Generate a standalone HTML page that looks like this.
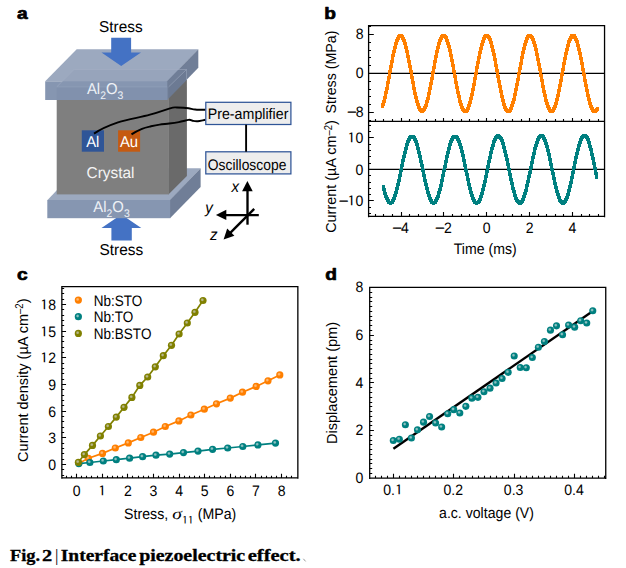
<!DOCTYPE html>
<html lang="en"><head><meta charset="utf-8"><title>Fig. 2 | Interface piezoelectric effect</title>
<style>html,body{margin:0;padding:0;background:#fff;}body{width:626px;height:568px;overflow:hidden;}svg{display:block;}text{font-family:"Liberation Sans",Arial,Helvetica,sans-serif;fill:#000;}.lab{font-weight:bold;font-size:17px;stroke:#000;stroke-width:0.7px;stroke-linejoin:round;}.cap{font-family:"Liberation Serif","DejaVu Serif",serif;font-weight:bold;stroke:#000;stroke-width:0.3px;}.w{fill:#fff;}.n{font-family:"IPAGothic","NanumGothic","Liberation Sans",sans-serif;}</style>
</head><body>
<svg width="626" height="568" viewBox="0 0 626 568">
<defs>
<radialGradient id="gO" cx="0.4" cy="0.4" r="0.26" fx="0.4" fy="0.4"><stop offset="0" stop-color="#ffb870"/><stop offset="0.35" stop-color="#ffb870"/><stop offset="1" stop-color="#ff7f00"/></radialGradient>
<radialGradient id="gT" cx="0.4" cy="0.4" r="0.26" fx="0.4" fy="0.4"><stop offset="0" stop-color="#8cc0c0"/><stop offset="0.35" stop-color="#8cc0c0"/><stop offset="1" stop-color="#008080"/></radialGradient>
<radialGradient id="gL" cx="0.4" cy="0.4" r="0.26" fx="0.4" fy="0.4"><stop offset="0" stop-color="#b8b88c"/><stop offset="0.35" stop-color="#b8b88c"/><stop offset="1" stop-color="#808000"/></radialGradient>
</defs>
<rect width="626" height="568" fill="#fff"/>
<text transform="translate(17.0 18.9) scale(1.13 1)" class="lab">a</text>
<text transform="translate(324.3 18.9) scale(1.13 1)" class="lab">b</text>
<text transform="translate(17.1 279.5) scale(1.13 1)" class="lab">c</text>
<text transform="translate(325.2 279.5) scale(1.13 1)" class="lab">d</text>
<g id="panel-a">
<polygon points="47.3,200.2 77.7,168.3 200.6,168.3 170.2,200.2" fill="#9ca9bf"/>
<polygon points="170.0,200.0 200.6,168.3 200.6,186.9 170.0,218.2" fill="#707e97"/>
<polygon points="168.4,86.9 186.9,69.5 186.9,176.0 168.4,194.4" fill="#6a6a6a"/>
<rect x="56.7" y="86.9" width="112.2" height="107.5" fill="#7f7f7f"/>
<polygon points="45.2,81.3 76.7,49.3 198.3,49.3 167.3,81.3" fill="#9ca9bf"/>
<polygon points="56.7,86.9 74.1,69.5 186.5,69.5 168.6,86.9" fill="#97a4bb"/>
<polygon points="167.0,81.3 198.3,49.3 198.3,67.7 167.0,100.0" fill="#707e97"/>
<polygon points="168.6,86.9 186.9,69.5 186.9,79.8 168.6,98.2" fill="#6c7a93"/>
<rect x="45.2" y="81.3" width="122.1" height="18.7" fill="#8696b1"/>
<rect x="56.7" y="86.9" width="110.6" height="13.1" fill="#8191ad"/>
<path d="M56.7,86.9 L74.1,69.5 H186.5 L168.6,86.9 M186.5,69.5 V80" fill="none" stroke="#a6b1c6" stroke-width="0.6" opacity="0.8"/>
<path d="M56.7,86.9 H167.3" fill="none" stroke="#94a2bb" stroke-width="0.6"/>
<polygon points="111.2,37.8 131.1,37.8 131.1,52.4 141,52.4 121.2,66 101.5,52.4 111.2,52.4" fill="#4472c4"/>
<polygon points="111.4,240.4 131.8,240.4 131.8,227.9 141.3,227.9 121.4,214.5 101.5,227.9 111.4,227.9" fill="#4472c4"/>
<rect x="47.3" y="200.0" width="122.9" height="18.2" fill="#8696b1"/>
<text transform="translate(99.0 32.4) scale(1 1) skewX(0.3)" font-size="15.7" text-anchor="start" textLength="43.6" lengthAdjust="spacingAndGlyphs" >Stress</text>
<text transform="translate(99.5 254.9) scale(1 1) skewX(0.3)" font-size="15.7" text-anchor="start" textLength="43.8" lengthAdjust="spacingAndGlyphs" >Stress</text>
<text transform="translate(86.9 94.1) scale(0.95 1) skewX(0.3)" font-size="15.7" style="fill:#eef1f6">Al<tspan dy="5" font-size="11">2</tspan><tspan dy="-5">O</tspan><tspan dy="5" font-size="11">3</tspan></text>
<text transform="translate(93.3 211.8) scale(0.95 1) skewX(0.3)" font-size="15.7" style="fill:#eef1f6">Al<tspan dy="5" font-size="11">2</tspan><tspan dy="-5">O</tspan><tspan dy="5" font-size="11">3</tspan></text>
<text transform="translate(86.5 178) scale(1 1) skewX(0.3)" font-size="15.7" text-anchor="start" textLength="48.0" lengthAdjust="spacingAndGlyphs" style="fill:#f4f4f4">Crystal</text>
<rect x="81.8" y="130.3" width="22.2" height="21.4" fill="#2f5597"/>
<rect x="118.1" y="130.3" width="22" height="21.4" fill="#c55a11"/>
<text transform="translate(92.8 146.9) scale(0.95 1) skewX(0.3)" font-size="15.7" text-anchor="middle" class="w">Al</text>
<text transform="translate(129.0 146.9) scale(0.95 1) skewX(0.3)" font-size="15.7" text-anchor="middle" class="w">Au</text>
<path d="M94,133.6 C100,129.5 108,125.8 118,122.4 S140,117.5 150,114.7 S163,110.4 169.2,108.6 S174,107.5 177,107.5 S186,107.8 188.4,108.2 S193,109.3 195.1,109.5 S201,109.8 205.6,109.8" fill="none" stroke="#000" stroke-width="1.9"/>
<path d="M131.5,134.4 C135,132 139,130 142,128.8 S148,127 151,126.3 S157,125 159.6,124.6 S166,123.9 169.2,123.5 S176,122.6 178.8,122.1 S186,120.4 188.4,119.9 S191.5,120.6 193.1,120.9 S196.5,121.3 197.9,121.2 S203,120.2 205.6,119.7" fill="none" stroke="#000" stroke-width="1.9"/>
<rect x="205.8" y="102.3" width="85.1" height="22.2" fill="#ededed" stroke="#2f5597" stroke-width="1.25"/>
<rect x="205.8" y="151.8" width="85.1" height="22.1" fill="#ededed" stroke="#2f5597" stroke-width="1.25"/>
<line x1="246.1" y1="124.7" x2="246.1" y2="151.7" stroke="#000" stroke-width="1.9"/>
<text transform="translate(207.7 118.9) scale(1 1) skewX(0.3)" font-size="15.3" text-anchor="start" textLength="80.7" lengthAdjust="spacingAndGlyphs" >Pre-amplifier</text>
<text transform="translate(207.7 169.6) scale(1 1) skewX(0.3)" font-size="15.3" text-anchor="start" textLength="78.7" lengthAdjust="spacingAndGlyphs" >Oscilloscope</text>
<g stroke="#000" stroke-width="2.35" fill="none">
<line x1="247.5" y1="224.7" x2="247.5" y2="189"/>
<line x1="258.8" y1="215.1" x2="225" y2="215.1"/>
<line x1="254.2" y1="208.9" x2="229" y2="234.2"/>
</g>
<polygon points="247.4,181.1 252.7,191.3 242.1,191.3" fill="#000"/>
<polygon points="215.9,214.9 226.3,209.8 226.3,220" fill="#000"/>
<polygon points="223.6,239.4 227.2,228.6 234.4,235.8" fill="#000"/>
<text transform="translate(231.6 192.3) scale(0.95 1) skewX(0.3)" font-size="16" text-anchor="start" font-style="italic">x</text>
<text transform="translate(205.2 212.6) scale(0.95 1) skewX(0.3)" font-size="16" text-anchor="start" font-style="italic">y</text>
<text transform="translate(210.0 240.2) scale(0.95 1) skewX(0.3)" font-size="16" text-anchor="start" font-style="italic">z</text>
</g>
<g id="panel-b">
<path d="M368.6,73.45H604.55M368.6,169.45H604.55" stroke="#000" stroke-width="1.2" fill="none"/>
<polygon points="381.10,104.58 381.35,103.86 381.60,103.09 381.85,102.28 382.10,101.44 382.35,100.55 382.60,99.63 382.85,98.66 383.10,97.67 383.35,96.64 383.60,95.57 383.85,94.48 384.10,93.35 384.35,92.20 384.60,91.02 384.85,89.81 385.10,88.58 385.35,87.33 385.60,86.06 385.85,84.77 386.10,83.46 386.35,82.14 386.60,80.81 386.85,79.46 387.10,78.10 387.35,76.73 387.60,75.36 387.85,73.99 388.10,72.61 388.35,71.23 388.60,69.85 388.85,68.47 389.10,67.10 389.35,65.73 389.60,64.37 389.85,63.03 390.10,61.69 390.35,60.37 390.60,59.06 390.85,57.77 391.10,56.50 391.35,55.25 391.60,54.03 391.85,52.82 392.10,51.64 392.35,50.49 392.60,49.37 392.85,48.27 393.10,47.21 393.35,46.18 393.60,45.19 393.85,44.23 394.10,43.31 394.35,42.42 394.60,41.57 394.85,40.77 395.10,40.01 395.35,39.28 395.60,38.61 395.85,37.97 396.10,37.38 396.35,36.84 396.60,36.34 396.85,35.89 397.10,35.49 397.35,35.14 397.60,34.84 397.85,34.58 398.10,34.38 398.35,34.22 398.60,34.11 398.85,34.06 399.10,34.05 399.35,34.05 399.60,34.05 399.85,34.05 400.10,34.05 400.35,34.05 400.60,34.05 400.85,34.05 401.10,34.05 401.35,34.05 401.60,34.05 401.85,34.05 402.10,34.05 402.35,34.10 402.60,34.19 402.85,34.34 403.10,34.54 403.35,34.78 403.60,35.08 403.85,35.42 404.10,35.81 404.35,36.25 404.60,36.74 404.85,37.27 405.10,37.85 405.35,38.48 405.60,39.14 405.85,39.86 406.10,40.61 406.35,41.41 406.60,42.25 406.85,43.13 407.10,44.04 407.35,44.99 407.60,45.98 407.85,47.00 408.10,48.06 408.35,49.15 408.60,50.26 408.85,51.41 409.10,52.58 409.35,53.78 409.60,55.01 409.85,56.25 410.10,57.52 410.35,58.80 410.60,60.11 410.85,61.43 411.10,62.76 411.35,64.10 411.60,65.46 411.85,66.82 412.10,68.19 412.35,69.57 412.60,70.95 412.85,72.33 413.10,73.71 413.35,75.09 413.60,76.46 413.85,77.83 414.10,79.19 414.35,80.54 414.60,81.88 414.85,83.20 415.10,84.51 415.35,85.81 415.60,87.08 415.85,88.34 416.10,89.57 416.35,90.78 416.60,91.97 416.85,93.12 417.10,94.25 417.35,95.36 417.60,96.43 417.85,97.46 418.10,98.47 418.35,99.44 418.60,100.37 418.85,101.26 419.10,102.12 419.35,102.93 419.60,103.71 419.85,104.44 420.10,105.13 420.35,105.77 420.60,106.37 420.85,106.93 421.10,107.44 421.35,107.90 421.60,108.31 421.85,108.68 422.10,108.90 422.35,108.57 422.60,108.19 422.85,107.76 423.10,107.29 423.35,106.77 423.60,106.20 423.85,105.58 424.10,104.93 424.35,104.22 424.60,103.48 424.85,102.69 425.10,101.87 425.35,101.00 425.60,100.09 425.85,99.15 426.10,98.17 426.35,97.16 426.60,96.11 426.85,95.03 427.10,93.92 427.35,92.78 427.60,91.61 427.85,90.42 428.10,89.20 428.35,87.96 428.60,86.70 428.85,85.42 429.10,84.12 429.35,82.81 429.60,81.48 429.85,80.13 430.10,78.78 430.35,77.42 430.60,76.05 430.85,74.67 431.10,73.30 431.35,71.92 431.60,70.54 431.85,69.16 432.10,67.78 432.35,66.41 432.60,65.05 432.85,63.70 433.10,62.36 433.35,61.03 433.60,59.71 433.85,58.42 434.10,57.14 434.35,55.88 434.60,54.64 434.85,53.42 435.10,52.23 435.35,51.06 435.60,49.92 435.85,48.82 436.10,47.74 436.35,46.69 436.60,45.68 436.85,44.70 437.10,43.76 437.35,42.86 437.60,41.99 437.85,41.17 438.10,40.38 438.35,39.64 438.60,38.94 438.85,38.28 439.10,37.67 439.35,37.11 439.60,36.59 439.85,36.11 440.10,35.69 440.35,35.31 440.60,34.98 440.85,34.70 441.10,34.47 441.35,34.29 441.60,34.16 441.85,34.08 442.10,34.05 442.35,34.05 442.60,34.05 442.85,34.05 443.10,34.05 443.35,34.05 443.60,34.05 443.85,34.05 444.10,34.05 444.35,34.05 444.60,34.05 444.85,34.05 445.10,34.05 445.35,34.07 445.60,34.14 445.85,34.26 446.10,34.43 446.35,34.65 446.60,34.92 446.85,35.24 447.10,35.61 447.35,36.02 447.60,36.49 447.85,37.00 448.10,37.55 448.35,38.16 448.60,38.80 448.85,39.50 449.10,40.23 449.35,41.01 449.60,41.82 449.85,42.68 450.10,43.58 450.35,44.51 450.60,45.48 450.85,46.49 451.10,47.53 451.35,48.60 451.60,49.70 451.85,50.83 452.10,51.99 452.35,53.18 452.60,54.39 452.85,55.63 453.10,56.88 453.35,58.16 453.60,59.45 453.85,60.76 454.10,62.09 454.35,63.43 454.60,64.78 454.85,66.14 455.10,67.51 455.35,68.88 455.60,70.26 455.85,71.64 456.10,73.02 456.35,74.40 456.60,75.77 456.85,77.14 457.10,78.51 457.35,79.86 457.60,81.21 457.85,82.54 458.10,83.86 458.35,85.16 458.60,86.45 458.85,87.71 459.10,88.96 459.35,90.18 459.60,91.38 459.85,92.55 460.10,93.69 460.35,94.81 460.60,95.89 460.85,96.95 461.10,97.97 461.35,98.96 461.60,99.91 461.85,100.82 462.10,101.69 462.35,102.53 462.60,103.33 462.85,104.08 463.10,104.79 463.35,105.46 463.60,106.08 463.85,106.66 464.10,107.19 464.35,107.67 464.60,108.11 464.85,108.50 465.10,108.84 465.35,108.74 465.60,108.39 465.85,107.98 466.10,107.53 466.35,107.03 466.60,106.49 466.85,105.90 467.10,105.26 467.35,104.58 467.60,103.86 467.85,103.09 468.10,102.28 468.35,101.44 468.60,100.55 468.85,99.63 469.10,98.66 469.35,97.67 469.60,96.64 469.85,95.57 470.10,94.48 470.35,93.35 470.60,92.20 470.85,91.02 471.10,89.81 471.35,88.58 471.60,87.33 471.85,86.06 472.10,84.77 472.35,83.46 472.60,82.14 472.85,80.81 473.10,79.46 473.35,78.10 473.60,76.73 473.85,75.36 474.10,73.99 474.35,72.61 474.60,71.23 474.85,69.85 475.10,68.47 475.35,67.10 475.60,65.73 475.85,64.37 476.10,63.03 476.35,61.69 476.60,60.37 476.85,59.06 477.10,57.77 477.35,56.50 477.60,55.25 477.85,54.03 478.10,52.82 478.35,51.64 478.60,50.49 478.85,49.37 479.10,48.27 479.35,47.21 479.60,46.18 479.85,45.19 480.10,44.23 480.35,43.31 480.60,42.42 480.85,41.57 481.10,40.77 481.35,40.01 481.60,39.28 481.85,38.61 482.10,37.97 482.35,37.38 482.60,36.84 482.85,36.34 483.10,35.89 483.35,35.49 483.60,35.14 483.85,34.84 484.10,34.58 484.35,34.38 484.60,34.22 484.85,34.11 485.10,34.06 485.35,34.05 485.60,34.05 485.85,34.05 486.10,34.05 486.35,34.05 486.60,34.05 486.85,34.05 487.10,34.05 487.35,34.05 487.60,34.05 487.85,34.05 488.10,34.05 488.35,34.05 488.60,34.10 488.85,34.19 489.10,34.34 489.35,34.54 489.60,34.78 489.85,35.08 490.10,35.42 490.35,35.81 490.60,36.25 490.85,36.74 491.10,37.27 491.35,37.85 491.60,38.48 491.85,39.14 492.10,39.86 492.35,40.61 492.60,41.41 492.85,42.25 493.10,43.13 493.35,44.04 493.60,44.99 493.85,45.98 494.10,47.00 494.35,48.06 494.60,49.15 494.85,50.26 495.10,51.41 495.35,52.58 495.60,53.78 495.85,55.01 496.10,56.25 496.35,57.52 496.60,58.80 496.85,60.11 497.10,61.43 497.35,62.76 497.60,64.10 497.85,65.46 498.10,66.82 498.35,68.19 498.60,69.57 498.85,70.95 499.10,72.33 499.35,73.71 499.60,75.09 499.85,76.46 500.10,77.83 500.35,79.19 500.60,80.54 500.85,81.88 501.10,83.20 501.35,84.51 501.60,85.81 501.85,87.08 502.10,88.34 502.35,89.57 502.60,90.78 502.85,91.97 503.10,93.12 503.35,94.25 503.60,95.36 503.85,96.43 504.10,97.46 504.35,98.47 504.60,99.44 504.85,100.37 505.10,101.26 505.35,102.12 505.60,102.93 505.85,103.71 506.10,104.44 506.35,105.13 506.60,105.77 506.85,106.37 507.10,106.93 507.35,107.44 507.60,107.90 507.85,108.31 508.10,108.68 508.35,108.90 508.60,108.57 508.85,108.19 509.10,107.76 509.35,107.29 509.60,106.77 509.85,106.20 510.10,105.58 510.35,104.93 510.60,104.22 510.85,103.48 511.10,102.69 511.35,101.87 511.60,101.00 511.85,100.09 512.10,99.15 512.35,98.17 512.60,97.16 512.85,96.11 513.10,95.03 513.35,93.92 513.60,92.78 513.85,91.61 514.10,90.42 514.35,89.20 514.60,87.96 514.85,86.70 515.10,85.42 515.35,84.12 515.60,82.81 515.85,81.48 516.10,80.13 516.35,78.78 516.60,77.42 516.85,76.05 517.10,74.67 517.35,73.30 517.60,71.92 517.85,70.54 518.10,69.16 518.35,67.78 518.60,66.41 518.85,65.05 519.10,63.70 519.35,62.36 519.60,61.03 519.85,59.71 520.10,58.42 520.35,57.14 520.60,55.88 520.85,54.64 521.10,53.42 521.35,52.23 521.60,51.06 521.85,49.92 522.10,48.82 522.35,47.74 522.60,46.69 522.85,45.68 523.10,44.70 523.35,43.76 523.60,42.86 523.85,41.99 524.10,41.17 524.35,40.38 524.60,39.64 524.85,38.94 525.10,38.28 525.35,37.67 525.60,37.11 525.85,36.59 526.10,36.11 526.35,35.69 526.60,35.31 526.85,34.98 527.10,34.70 527.35,34.47 527.60,34.29 527.85,34.16 528.10,34.08 528.35,34.05 528.60,34.05 528.85,34.05 529.10,34.05 529.35,34.05 529.60,34.05 529.85,34.05 530.10,34.05 530.35,34.05 530.60,34.05 530.85,34.05 531.10,34.05 531.35,34.05 531.60,34.07 531.85,34.14 532.10,34.26 532.35,34.43 532.60,34.65 532.85,34.92 533.10,35.24 533.35,35.61 533.60,36.02 533.85,36.49 534.10,37.00 534.35,37.55 534.60,38.16 534.85,38.80 535.10,39.50 535.35,40.23 535.60,41.01 535.85,41.82 536.10,42.68 536.35,43.58 536.60,44.51 536.85,45.48 537.10,46.49 537.35,47.53 537.60,48.60 537.85,49.70 538.10,50.83 538.35,51.99 538.60,53.18 538.85,54.39 539.10,55.63 539.35,56.88 539.60,58.16 539.85,59.45 540.10,60.76 540.35,62.09 540.60,63.43 540.85,64.78 541.10,66.14 541.35,67.51 541.60,68.88 541.85,70.26 542.10,71.64 542.35,73.02 542.60,74.40 542.85,75.77 543.10,77.14 543.35,78.51 543.60,79.86 543.85,81.21 544.10,82.54 544.35,83.86 544.60,85.16 544.85,86.45 545.10,87.71 545.35,88.96 545.60,90.18 545.85,91.38 546.10,92.55 546.35,93.69 546.60,94.81 546.85,95.89 547.10,96.95 547.35,97.97 547.60,98.96 547.85,99.91 548.10,100.82 548.35,101.69 548.60,102.53 548.85,103.33 549.10,104.08 549.35,104.79 549.60,105.46 549.85,106.08 550.10,106.66 550.35,107.19 550.60,107.67 550.85,108.11 551.10,108.50 551.35,108.84 551.60,108.74 551.85,108.39 552.10,107.98 552.35,107.53 552.60,107.03 552.85,106.49 553.10,105.90 553.35,105.26 553.60,104.58 553.85,103.86 554.10,103.09 554.35,102.28 554.60,101.44 554.85,100.55 555.10,99.63 555.35,98.66 555.60,97.67 555.85,96.64 556.10,95.57 556.35,94.48 556.60,93.35 556.85,92.20 557.10,91.02 557.35,89.81 557.60,88.58 557.85,87.33 558.10,86.06 558.35,84.77 558.60,83.46 558.85,82.14 559.10,80.81 559.35,79.46 559.60,78.10 559.85,76.73 560.10,75.36 560.35,73.99 560.60,72.61 560.85,71.23 561.10,69.85 561.35,68.47 561.60,67.10 561.85,65.73 562.10,64.37 562.35,63.03 562.60,61.69 562.85,60.37 563.10,59.06 563.35,57.77 563.60,56.50 563.85,55.25 564.10,54.03 564.35,52.82 564.60,51.64 564.85,50.49 565.10,49.37 565.35,48.27 565.60,47.21 565.85,46.18 566.10,45.19 566.35,44.23 566.60,43.31 566.85,42.42 567.10,41.57 567.35,40.77 567.60,40.01 567.85,39.28 568.10,38.61 568.35,37.97 568.60,37.38 568.85,36.84 569.10,36.34 569.35,35.89 569.60,35.49 569.85,35.14 570.10,34.84 570.35,34.58 570.60,34.38 570.85,34.22 571.10,34.11 571.35,34.06 571.60,34.05 571.85,34.05 572.10,34.05 572.35,34.05 572.60,34.05 572.85,34.05 573.10,34.05 573.35,34.05 573.60,34.05 573.85,34.05 574.10,34.05 574.35,34.05 574.60,34.05 574.85,34.10 575.10,34.19 575.35,34.34 575.60,34.54 575.85,34.78 576.10,35.08 576.35,35.42 576.60,35.81 576.85,36.25 577.10,36.74 577.35,37.27 577.60,37.85 577.85,38.48 578.10,39.14 578.35,39.86 578.60,40.61 578.85,41.41 579.10,42.25 579.35,43.13 579.60,44.04 579.85,44.99 580.10,45.98 580.35,47.00 580.60,48.06 580.85,49.15 581.10,50.26 581.35,51.41 581.60,52.58 581.85,53.78 582.10,55.01 582.35,56.25 582.60,57.52 582.85,58.80 583.10,60.11 583.35,61.43 583.60,62.76 583.85,64.10 584.10,65.46 584.35,66.82 584.60,68.19 584.85,69.57 585.10,70.95 585.35,72.33 585.60,73.71 585.85,75.09 586.10,76.46 586.35,77.83 586.60,79.19 586.85,80.54 587.10,81.88 587.35,83.20 587.60,84.51 587.85,85.81 588.10,87.08 588.35,88.34 588.60,89.57 588.85,90.78 589.10,91.97 589.35,93.12 589.60,94.25 589.85,95.36 590.10,96.43 590.35,97.46 590.60,98.47 590.85,99.44 591.10,100.37 591.35,101.26 591.60,102.12 591.85,102.93 592.10,103.71 592.35,104.44 592.60,105.13 592.85,105.77 593.10,106.37 593.35,106.93 593.60,107.44 593.85,107.90 594.10,108.31 594.35,108.68 594.60,108.90 594.85,108.57 595.10,108.19 595.35,107.76 595.60,107.49 595.85,107.49 596.10,107.49 596.35,107.49 596.60,107.49 596.85,107.49 597.10,107.49 597.35,107.49 597.60,107.49 597.85,107.49 598.10,107.49 598.35,107.49 598.60,107.29 598.60,110.49 598.35,110.76 598.10,111.19 597.85,111.57 597.60,111.90 597.35,112.19 597.10,112.42 596.85,112.60 596.60,112.73 596.35,112.82 596.10,112.85 595.85,112.85 595.60,112.85 595.35,112.85 595.10,112.85 594.85,112.85 594.60,112.85 594.35,112.85 594.10,112.85 593.85,112.85 593.60,112.85 593.35,112.85 593.10,112.85 592.85,112.83 592.60,112.76 592.35,112.65 592.10,112.48 591.85,112.26 591.60,111.99 591.35,111.68 591.10,111.31 590.85,110.90 590.60,110.44 590.35,109.93 590.10,109.37 589.85,108.77 589.60,108.13 589.35,107.44 589.10,106.71 588.85,105.93 588.60,105.12 588.35,104.26 588.10,103.37 587.85,102.44 587.60,101.47 587.35,100.46 587.10,99.43 586.85,98.36 586.60,97.25 586.35,96.12 586.10,94.97 585.85,93.78 585.60,92.57 585.35,91.34 585.10,90.08 584.85,88.81 584.60,87.51 584.35,86.20 584.10,84.88 583.85,83.54 583.60,82.19 583.35,80.83 583.10,79.46 582.85,78.09 582.60,76.71 582.35,75.33 582.10,73.95 581.85,72.57 581.60,71.19 581.35,69.82 581.10,68.46 580.85,67.10 580.60,65.76 580.35,64.43 580.10,63.11 579.85,61.80 579.60,60.52 579.35,59.25 579.10,58.01 578.85,56.78 578.60,55.58 578.35,54.41 578.10,53.26 577.85,52.15 577.60,51.06 577.35,50.00 577.10,48.98 576.85,47.99 576.60,47.04 576.35,46.13 576.10,45.25 575.85,44.41 575.60,43.61 575.35,42.86 575.10,42.14 574.85,41.48 574.60,40.85 574.35,40.27 574.10,39.74 573.85,39.25 573.60,38.81 573.35,38.42 573.10,38.08 572.85,38.14 572.60,38.49 572.35,38.89 572.10,39.34 571.85,39.84 571.60,40.38 571.35,40.97 571.10,41.61 570.85,42.28 570.60,43.01 570.35,43.77 570.10,44.57 569.85,45.42 569.60,46.31 569.35,47.23 569.10,48.19 568.85,49.18 568.60,50.21 568.35,51.27 568.10,52.37 567.85,53.49 567.60,54.64 567.35,55.82 567.10,57.03 566.85,58.25 566.60,59.50 566.35,60.77 566.10,62.06 565.85,63.37 565.60,64.69 565.35,66.03 565.10,67.37 564.85,68.73 564.60,70.10 564.35,71.47 564.10,72.85 563.85,74.23 563.60,75.61 563.35,76.99 563.10,78.36 562.85,79.73 562.60,81.10 562.35,82.46 562.10,83.81 561.85,85.14 561.60,86.46 561.35,87.77 561.10,89.06 560.85,90.33 560.60,91.58 560.35,92.81 560.10,94.02 559.85,95.20 559.60,96.35 559.35,97.48 559.10,98.57 558.85,99.64 558.60,100.67 558.35,101.66 558.10,102.63 557.85,103.55 557.60,104.44 557.35,105.28 557.10,106.09 556.85,106.86 556.60,107.58 556.35,108.26 556.10,108.90 555.85,109.49 555.60,110.03 555.35,110.53 555.10,110.98 554.85,111.39 554.60,111.74 554.35,112.05 554.10,112.31 553.85,112.52 553.60,112.67 553.35,112.78 553.10,112.84 552.85,112.85 552.60,112.85 552.35,112.85 552.10,112.85 551.85,112.85 551.60,112.85 551.35,112.85 551.10,112.85 550.85,112.85 550.60,112.85 550.35,112.85 550.10,112.85 549.85,112.85 549.60,112.80 549.35,112.71 549.10,112.57 548.85,112.38 548.60,112.13 548.35,111.84 548.10,111.50 547.85,111.11 547.60,110.67 547.35,110.19 547.10,109.66 546.85,109.08 546.60,108.46 546.35,107.79 546.10,107.08 545.85,106.33 545.60,105.53 545.35,104.69 545.10,103.82 544.85,102.91 544.60,101.96 544.35,100.97 544.10,99.95 543.85,98.89 543.60,97.81 543.35,96.69 543.10,95.55 542.85,94.38 542.60,93.18 542.35,91.96 542.10,90.71 541.85,89.45 541.60,88.16 541.35,86.86 541.10,85.54 540.85,84.21 540.60,82.86 540.35,81.51 540.10,80.14 539.85,78.77 539.60,77.40 539.35,76.02 539.10,74.64 538.85,73.26 538.60,71.88 538.35,70.51 538.10,69.14 537.85,67.78 537.60,66.43 537.35,65.09 537.10,63.76 536.85,62.45 536.60,61.16 536.35,59.88 536.10,58.63 535.85,57.39 535.60,56.18 535.35,54.99 535.10,53.83 534.85,52.70 534.60,51.60 534.35,50.53 534.10,49.49 533.85,48.48 533.60,47.51 533.35,46.58 533.10,45.68 532.85,44.82 532.60,44.01 532.35,43.23 532.10,42.50 531.85,41.80 531.60,41.16 531.35,40.55 531.10,40.00 530.85,39.49 530.60,39.02 530.35,38.61 530.10,38.24 529.85,37.98 529.60,38.31 529.35,38.69 529.10,39.11 528.85,39.59 528.60,40.11 528.35,40.67 528.10,41.28 527.85,41.94 527.60,42.64 527.35,43.38 527.10,44.17 526.85,44.99 526.60,45.86 526.35,46.76 526.10,47.70 525.85,48.68 525.60,49.69 525.35,50.74 525.10,51.82 524.85,52.92 524.60,54.06 524.35,55.23 524.10,56.42 523.85,57.64 523.60,58.88 523.35,60.14 523.10,61.42 522.85,62.71 522.60,64.03 522.35,65.36 522.10,66.70 521.85,68.05 521.60,69.41 521.35,70.78 521.10,72.16 520.85,73.54 520.60,74.92 520.35,76.30 520.10,77.67 519.85,79.05 519.60,80.42 519.35,81.78 519.10,83.13 518.85,84.48 518.60,85.81 518.35,87.12 518.10,88.42 517.85,89.70 517.60,90.96 517.35,92.20 517.10,93.42 516.85,94.61 516.60,95.78 516.35,96.92 516.10,98.03 515.85,99.11 515.60,100.16 515.35,101.17 515.10,102.15 514.85,103.09 514.60,104.00 514.35,104.87 514.10,105.69 513.85,106.48 513.60,107.22 513.35,107.93 513.10,108.58 512.85,109.20 512.60,109.77 512.35,110.29 512.10,110.76 511.85,111.19 511.60,111.57 511.35,111.90 511.10,112.19 510.85,112.42 510.60,112.60 510.35,112.73 510.10,112.82 509.85,112.85 509.60,112.85 509.35,112.85 509.10,112.85 508.85,112.85 508.60,112.85 508.35,112.85 508.10,112.85 507.85,112.85 507.60,112.85 507.35,112.85 507.10,112.85 506.85,112.85 506.60,112.83 506.35,112.76 506.10,112.65 505.85,112.48 505.60,112.26 505.35,111.99 505.10,111.68 504.85,111.31 504.60,110.90 504.35,110.44 504.10,109.93 503.85,109.37 503.60,108.77 503.35,108.13 503.10,107.44 502.85,106.71 502.60,105.93 502.35,105.12 502.10,104.26 501.85,103.37 501.60,102.44 501.35,101.47 501.10,100.46 500.85,99.43 500.60,98.36 500.35,97.25 500.10,96.12 499.85,94.97 499.60,93.78 499.35,92.57 499.10,91.34 498.85,90.08 498.60,88.81 498.35,87.51 498.10,86.20 497.85,84.88 497.60,83.54 497.35,82.19 497.10,80.83 496.85,79.46 496.60,78.09 496.35,76.71 496.10,75.33 495.85,73.95 495.60,72.57 495.35,71.19 495.10,69.82 494.85,68.46 494.60,67.10 494.35,65.76 494.10,64.43 493.85,63.11 493.60,61.80 493.35,60.52 493.10,59.25 492.85,58.01 492.60,56.78 492.35,55.58 492.10,54.41 491.85,53.26 491.60,52.15 491.35,51.06 491.10,50.00 490.85,48.98 490.60,47.99 490.35,47.04 490.10,46.13 489.85,45.25 489.60,44.41 489.35,43.61 489.10,42.86 488.85,42.14 488.60,41.48 488.35,40.85 488.10,40.27 487.85,39.74 487.60,39.25 487.35,38.81 487.10,38.42 486.85,38.08 486.60,38.14 486.35,38.49 486.10,38.89 485.85,39.34 485.60,39.84 485.35,40.38 485.10,40.97 484.85,41.61 484.60,42.28 484.35,43.01 484.10,43.77 483.85,44.57 483.60,45.42 483.35,46.31 483.10,47.23 482.85,48.19 482.60,49.18 482.35,50.21 482.10,51.27 481.85,52.37 481.60,53.49 481.35,54.64 481.10,55.82 480.85,57.03 480.60,58.25 480.35,59.50 480.10,60.77 479.85,62.06 479.60,63.37 479.35,64.69 479.10,66.03 478.85,67.37 478.60,68.73 478.35,70.10 478.10,71.47 477.85,72.85 477.60,74.23 477.35,75.61 477.10,76.99 476.85,78.36 476.60,79.73 476.35,81.10 476.10,82.46 475.85,83.81 475.60,85.14 475.35,86.46 475.10,87.77 474.85,89.06 474.60,90.33 474.35,91.58 474.10,92.81 473.85,94.02 473.60,95.20 473.35,96.35 473.10,97.48 472.85,98.57 472.60,99.64 472.35,100.67 472.10,101.66 471.85,102.63 471.60,103.55 471.35,104.44 471.10,105.28 470.85,106.09 470.60,106.86 470.35,107.58 470.10,108.26 469.85,108.90 469.60,109.49 469.35,110.03 469.10,110.53 468.85,110.98 468.60,111.39 468.35,111.74 468.10,112.05 467.85,112.31 467.60,112.52 467.35,112.67 467.10,112.78 466.85,112.84 466.60,112.85 466.35,112.85 466.10,112.85 465.85,112.85 465.60,112.85 465.35,112.85 465.10,112.85 464.85,112.85 464.60,112.85 464.35,112.85 464.10,112.85 463.85,112.85 463.60,112.85 463.35,112.80 463.10,112.71 462.85,112.57 462.60,112.38 462.35,112.13 462.10,111.84 461.85,111.50 461.60,111.11 461.35,110.67 461.10,110.19 460.85,109.66 460.60,109.08 460.35,108.46 460.10,107.79 459.85,107.08 459.60,106.33 459.35,105.53 459.10,104.69 458.85,103.82 458.60,102.91 458.35,101.96 458.10,100.97 457.85,99.95 457.60,98.89 457.35,97.81 457.10,96.69 456.85,95.55 456.60,94.38 456.35,93.18 456.10,91.96 455.85,90.71 455.60,89.45 455.35,88.16 455.10,86.86 454.85,85.54 454.60,84.21 454.35,82.86 454.10,81.51 453.85,80.14 453.60,78.77 453.35,77.40 453.10,76.02 452.85,74.64 452.60,73.26 452.35,71.88 452.10,70.51 451.85,69.14 451.60,67.78 451.35,66.43 451.10,65.09 450.85,63.76 450.60,62.45 450.35,61.16 450.10,59.88 449.85,58.63 449.60,57.39 449.35,56.18 449.10,54.99 448.85,53.83 448.60,52.70 448.35,51.60 448.10,50.53 447.85,49.49 447.60,48.48 447.35,47.51 447.10,46.58 446.85,45.68 446.60,44.82 446.35,44.01 446.10,43.23 445.85,42.50 445.60,41.80 445.35,41.16 445.10,40.55 444.85,40.00 444.60,39.49 444.35,39.02 444.10,38.61 443.85,38.24 443.60,37.98 443.35,38.31 443.10,38.69 442.85,39.11 442.60,39.59 442.35,40.11 442.10,40.67 441.85,41.28 441.60,41.94 441.35,42.64 441.10,43.38 440.85,44.17 440.60,44.99 440.35,45.86 440.10,46.76 439.85,47.70 439.60,48.68 439.35,49.69 439.10,50.74 438.85,51.82 438.60,52.92 438.35,54.06 438.10,55.23 437.85,56.42 437.60,57.64 437.35,58.88 437.10,60.14 436.85,61.42 436.60,62.71 436.35,64.03 436.10,65.36 435.85,66.70 435.60,68.05 435.35,69.41 435.10,70.78 434.85,72.16 434.60,73.54 434.35,74.92 434.10,76.30 433.85,77.67 433.60,79.05 433.35,80.42 433.10,81.78 432.85,83.13 432.60,84.48 432.35,85.81 432.10,87.12 431.85,88.42 431.60,89.70 431.35,90.96 431.10,92.20 430.85,93.42 430.60,94.61 430.35,95.78 430.10,96.92 429.85,98.03 429.60,99.11 429.35,100.16 429.10,101.17 428.85,102.15 428.60,103.09 428.35,104.00 428.10,104.87 427.85,105.69 427.60,106.48 427.35,107.22 427.10,107.93 426.85,108.58 426.60,109.20 426.35,109.77 426.10,110.29 425.85,110.76 425.60,111.19 425.35,111.57 425.10,111.90 424.85,112.19 424.60,112.42 424.35,112.60 424.10,112.73 423.85,112.82 423.60,112.85 423.35,112.85 423.10,112.85 422.85,112.85 422.60,112.85 422.35,112.85 422.10,112.85 421.85,112.85 421.60,112.85 421.35,112.85 421.10,112.85 420.85,112.85 420.60,112.85 420.35,112.83 420.10,112.76 419.85,112.65 419.60,112.48 419.35,112.26 419.10,111.99 418.85,111.68 418.60,111.31 418.35,110.90 418.10,110.44 417.85,109.93 417.60,109.37 417.35,108.77 417.10,108.13 416.85,107.44 416.60,106.71 416.35,105.93 416.10,105.12 415.85,104.26 415.60,103.37 415.35,102.44 415.10,101.47 414.85,100.46 414.60,99.43 414.35,98.36 414.10,97.25 413.85,96.12 413.60,94.97 413.35,93.78 413.10,92.57 412.85,91.34 412.60,90.08 412.35,88.81 412.10,87.51 411.85,86.20 411.60,84.88 411.35,83.54 411.10,82.19 410.85,80.83 410.60,79.46 410.35,78.09 410.10,76.71 409.85,75.33 409.60,73.95 409.35,72.57 409.10,71.19 408.85,69.82 408.60,68.46 408.35,67.10 408.10,65.76 407.85,64.43 407.60,63.11 407.35,61.80 407.10,60.52 406.85,59.25 406.60,58.01 406.35,56.78 406.10,55.58 405.85,54.41 405.60,53.26 405.35,52.15 405.10,51.06 404.85,50.00 404.60,48.98 404.35,47.99 404.10,47.04 403.85,46.13 403.60,45.25 403.35,44.41 403.10,43.61 402.85,42.86 402.60,42.14 402.35,41.48 402.10,40.85 401.85,40.27 401.60,39.74 401.35,39.25 401.10,38.81 400.85,38.42 400.60,38.08 400.35,38.14 400.10,38.49 399.85,38.89 399.60,39.34 399.35,39.84 399.10,40.38 398.85,40.97 398.60,41.61 398.35,42.28 398.10,43.01 397.85,43.77 397.60,44.57 397.35,45.42 397.10,46.31 396.85,47.23 396.60,48.19 396.35,49.18 396.10,50.21 395.85,51.27 395.60,52.37 395.35,53.49 395.10,54.64 394.85,55.82 394.60,57.03 394.35,58.25 394.10,59.50 393.85,60.77 393.60,62.06 393.35,63.37 393.10,64.69 392.85,66.03 392.60,67.37 392.35,68.73 392.10,70.10 391.85,71.47 391.60,72.85 391.35,74.23 391.10,75.61 390.85,76.99 390.60,78.36 390.35,79.73 390.10,81.10 389.85,82.46 389.60,83.81 389.35,85.14 389.10,86.46 388.85,87.77 388.60,89.06 388.35,90.33 388.10,91.58 387.85,92.81 387.60,94.02 387.35,95.20 387.10,96.35 386.85,97.48 386.60,98.57 386.35,99.64 386.10,100.67 385.85,101.66 385.60,102.63 385.35,103.55 385.10,104.44 384.85,105.28 384.60,106.09 384.35,106.86 384.10,107.58 383.85,107.58 383.60,107.58 383.35,107.58 383.10,107.58 382.85,107.58 382.60,107.58 382.35,107.58 382.10,107.58 381.85,107.58 381.60,107.58 381.35,107.58 381.10,107.58" fill="#ff7f00" shape-rendering="crispEdges"/>
<polygon points="381.80,185.00 382.05,185.00 382.30,185.00 382.55,185.00 382.80,185.00 383.05,185.00 383.30,185.00 383.55,185.00 383.80,185.00 384.05,185.00 384.30,185.00 384.55,185.00 384.80,185.00 385.05,186.05 385.30,187.07 385.55,188.06 385.80,189.03 386.05,189.97 386.30,190.88 386.55,191.76 386.80,192.60 387.05,193.42 387.30,194.20 387.55,194.95 387.80,195.66 388.05,196.33 388.30,196.97 388.55,197.57 388.80,198.12 389.05,198.64 389.30,199.12 389.55,199.56 389.80,199.95 390.05,200.30 390.30,200.61 390.55,200.61 390.80,200.30 391.05,199.95 391.30,199.56 391.55,199.12 391.80,198.64 392.05,198.12 392.30,197.57 392.55,196.97 392.80,196.33 393.05,195.66 393.30,194.95 393.55,194.20 393.80,193.42 394.05,192.60 394.30,191.76 394.55,190.88 394.80,189.97 395.05,189.03 395.30,188.06 395.55,187.07 395.80,186.05 396.05,185.00 396.30,183.94 396.55,182.85 396.80,181.74 397.05,180.62 397.30,179.48 397.55,178.32 397.80,177.15 398.05,175.96 398.30,174.77 398.55,173.57 398.80,172.36 399.05,171.14 399.30,169.92 399.55,168.70 399.80,167.48 400.05,166.28 400.30,165.08 400.55,163.89 400.80,162.69 401.05,161.51 401.30,160.34 401.55,159.17 401.80,158.02 402.05,156.88 402.30,155.75 402.55,154.64 402.80,153.55 403.05,152.48 403.30,151.43 403.55,150.39 403.80,149.39 404.05,148.40 404.30,147.45 404.55,146.52 404.80,145.62 405.05,144.74 405.30,143.90 405.55,143.09 405.80,142.32 406.05,141.57 406.30,140.87 406.55,140.19 406.80,139.56 407.05,138.96 407.30,138.40 407.55,137.88 407.80,137.40 408.05,136.96 408.30,136.57 408.55,136.21 408.80,135.90 409.05,135.62 409.30,135.39 409.55,135.21 409.80,135.07 410.05,134.97 410.30,134.91 410.55,134.90 410.80,134.90 411.05,134.90 411.30,134.90 411.55,134.90 411.80,134.90 412.05,134.90 412.30,134.90 412.55,134.90 412.80,134.90 413.05,134.90 413.30,134.90 413.55,134.90 413.80,134.93 414.05,135.01 414.30,135.13 414.55,135.30 414.80,135.50 415.05,135.75 415.30,136.05 415.55,136.38 415.80,136.76 416.05,137.18 416.30,137.64 416.55,138.14 416.80,138.68 417.05,139.26 417.30,139.87 417.55,140.53 417.80,141.22 418.05,141.94 418.30,142.70 418.55,143.50 418.80,144.33 419.05,145.18 419.30,146.07 419.55,146.99 419.80,147.94 420.05,148.91 420.30,149.90 420.55,150.93 420.80,151.97 421.05,153.04 421.30,154.12 421.55,155.23 421.80,156.35 422.05,157.48 422.30,158.63 422.55,159.80 422.80,160.97 423.05,162.15 423.30,163.34 423.55,164.54 423.80,165.74 424.05,166.95 424.30,168.16 424.55,169.38 424.80,170.60 425.05,171.82 425.30,173.04 425.55,174.24 425.80,175.44 426.05,176.63 426.30,177.81 426.55,178.97 426.80,180.12 427.05,181.25 427.30,182.37 427.55,183.46 427.80,184.54 428.05,185.59 428.30,186.62 428.55,187.63 428.80,188.61 429.05,189.56 429.30,190.48 429.55,191.37 429.80,192.24 430.05,193.06 430.30,193.86 430.55,194.62 430.80,195.35 431.05,196.04 431.30,196.69 431.55,197.31 431.80,197.88 432.05,198.42 432.30,198.92 432.55,199.37 432.80,199.78 433.05,200.15 433.30,200.48 433.55,200.73 433.80,200.44 434.05,200.11 434.30,199.74 434.55,199.32 434.80,198.86 435.05,198.36 435.30,197.82 435.55,197.24 435.80,196.62 436.05,195.96 436.30,195.26 436.55,194.53 436.80,193.77 437.05,192.97 437.30,192.13 437.55,191.27 437.80,190.37 438.05,189.44 438.30,188.49 438.55,187.51 438.80,186.50 439.05,185.47 439.30,184.41 439.55,183.33 439.80,182.23 440.05,181.12 440.30,179.98 440.55,178.83 440.80,177.66 441.05,176.49 441.30,175.30 441.55,174.10 441.80,172.89 442.05,171.68 442.30,170.46 442.55,169.24 442.80,168.01 443.05,166.80 443.30,165.59 443.55,164.38 443.80,163.18 444.05,161.99 444.30,160.80 444.55,159.62 444.80,158.45 445.05,157.30 445.30,156.16 445.55,155.03 445.80,153.92 446.05,152.83 446.30,151.76 446.55,150.72 446.80,149.69 447.05,148.69 447.30,147.71 447.55,146.76 447.80,145.84 448.05,144.95 448.30,144.09 448.55,143.26 448.80,142.46 449.05,141.70 449.30,140.97 449.55,140.28 449.80,139.62 450.05,139.00 450.30,138.42 450.55,137.88 450.80,137.38 451.05,136.92 451.30,136.50 451.55,136.12 451.80,135.79 452.05,135.49 452.30,135.24 452.55,135.04 452.80,134.87 453.05,134.76 453.30,134.68 453.55,134.65 453.80,134.65 454.05,134.65 454.30,134.65 454.55,134.65 454.80,134.65 455.05,134.65 455.30,134.65 455.55,134.65 455.80,134.65 456.05,134.65 456.30,134.65 456.55,134.65 456.80,134.66 457.05,134.72 457.30,134.82 457.55,134.97 457.80,135.16 458.05,135.39 458.30,135.67 458.55,135.99 458.80,136.35 459.05,136.75 459.30,137.20 459.55,137.68 459.80,138.21 460.05,138.78 460.30,139.38 460.55,140.02 460.80,140.70 461.05,141.42 461.30,142.17 461.55,142.96 461.80,143.78 462.05,144.63 462.30,145.51 462.55,146.42 462.80,147.36 463.05,148.33 463.30,149.32 463.55,150.34 463.80,151.38 464.05,152.45 464.30,153.53 464.55,154.64 464.80,155.76 465.05,156.90 465.30,158.05 465.55,159.22 465.80,160.40 466.05,161.58 466.30,162.78 466.55,163.98 466.80,165.19 467.05,166.41 467.30,167.62 467.55,168.84 467.80,170.07 468.05,171.29 468.30,172.50 468.55,173.71 468.80,174.91 469.05,176.11 469.30,177.29 469.55,178.46 469.80,179.61 470.05,180.75 470.30,181.88 470.55,182.98 470.80,184.07 471.05,185.13 471.30,186.17 471.55,187.19 471.80,188.18 472.05,189.14 472.30,190.08 472.55,190.98 472.80,191.86 473.05,192.70 473.30,193.52 473.55,194.29 473.80,195.03 474.05,195.74 474.30,196.41 474.55,197.04 474.80,197.64 475.05,198.19 475.30,198.70 475.55,199.18 475.80,199.61 476.05,200.00 476.30,200.34 476.55,200.65 476.80,200.58 477.05,200.26 477.30,199.91 477.55,199.51 477.80,199.07 478.05,198.58 478.30,198.06 478.55,197.50 478.80,196.89 479.05,196.25 479.30,195.57 479.55,194.86 479.80,194.11 480.05,193.32 480.30,192.50 480.55,191.65 480.80,190.77 481.05,189.86 481.30,188.91 481.55,187.94 481.80,186.95 482.05,185.92 482.30,184.88 482.55,183.81 482.80,182.72 483.05,181.61 483.30,180.48 483.55,179.34 483.80,178.18 484.05,177.01 484.30,175.82 484.55,174.63 484.80,173.42 485.05,172.21 485.30,170.99 485.55,169.77 485.80,168.55 486.05,167.33 486.30,166.11 486.55,164.89 486.80,163.68 487.05,162.47 487.30,161.27 487.55,160.08 487.80,158.90 488.05,157.73 488.30,156.57 488.55,155.43 488.80,154.31 489.05,153.20 489.30,152.11 489.55,151.05 489.80,150.00 490.05,148.98 490.30,147.99 490.55,147.02 490.80,146.08 491.05,145.17 491.30,144.29 491.55,143.44 491.80,142.62 492.05,141.83 492.30,141.09 492.55,140.37 492.80,139.69 493.05,139.05 493.30,138.45 493.55,137.89 493.80,137.37 494.05,136.88 494.30,136.44 494.55,136.04 494.80,135.69 495.05,135.37 495.30,135.10 495.55,134.88 495.80,134.69 496.05,134.55 496.30,134.46 496.55,134.41 496.80,134.40 497.05,134.40 497.30,134.40 497.55,134.40 497.80,134.40 498.05,134.40 498.30,134.40 498.55,134.40 498.80,134.40 499.05,134.40 499.30,134.40 499.55,134.40 499.80,134.40 500.05,134.44 500.30,134.52 500.55,134.65 500.80,134.82 501.05,135.04 501.30,135.30 501.55,135.60 501.80,135.95 502.05,136.33 502.30,136.77 502.55,137.24 502.80,137.75 503.05,138.30 503.30,138.89 503.55,139.52 503.80,140.19 504.05,140.90 504.30,141.64 504.55,142.42 504.80,143.23 505.05,144.07 505.30,144.95 505.55,145.85 505.80,146.79 506.05,147.75 506.30,148.74 506.55,149.75 506.80,150.79 507.05,151.86 507.30,152.94 507.55,154.05 507.80,155.17 508.05,156.31 508.30,157.46 508.55,158.63 508.80,159.82 509.05,161.01 509.30,162.21 509.55,163.42 509.80,164.64 510.05,165.86 510.30,167.08 510.55,168.31 510.80,169.53 511.05,170.75 511.30,171.97 511.55,173.18 511.80,174.39 512.05,175.58 512.30,176.77 512.55,177.95 512.80,179.11 513.05,180.25 513.30,181.39 513.55,182.50 513.80,183.59 514.05,184.67 514.30,185.72 514.55,186.74 514.80,187.75 515.05,188.72 515.30,189.67 515.55,190.59 515.80,191.48 516.05,192.34 516.30,193.16 516.55,193.95 516.80,194.71 517.05,195.43 517.30,196.12 517.55,196.77 517.80,197.38 518.05,197.95 518.30,198.48 518.55,198.97 518.80,199.42 519.05,199.83 519.30,200.20 519.55,200.52 519.80,200.70 520.05,200.41 520.30,200.07 520.55,199.69 520.80,199.26 521.05,198.80 521.30,198.30 521.55,197.75 521.80,197.16 522.05,196.54 522.30,195.88 522.55,195.18 522.80,194.44 523.05,193.67 523.30,192.87 523.55,192.03 523.80,191.16 524.05,190.26 524.30,189.33 524.55,188.37 524.80,187.39 525.05,186.38 525.30,185.34 525.55,184.28 525.80,183.20 526.05,182.10 526.30,180.98 526.55,179.84 526.80,178.69 527.05,177.52 527.30,176.34 527.55,175.15 527.80,173.95 528.05,172.74 528.30,171.53 528.55,170.31 528.80,169.09 529.05,167.86 529.30,166.63 529.55,165.41 529.80,164.18 530.05,162.96 530.30,161.75 530.55,160.55 530.80,159.35 531.05,158.17 531.30,157.00 531.55,155.84 531.80,154.70 532.05,153.58 532.30,152.47 532.55,151.39 532.80,150.33 533.05,149.29 533.30,148.28 533.55,147.29 533.80,146.33 534.05,145.40 534.30,144.50 534.55,143.63 534.80,142.79 535.05,141.98 535.30,141.21 535.55,140.48 535.80,139.78 536.05,139.12 536.30,138.49 536.55,137.91 536.80,137.36 537.05,136.86 537.30,136.40 537.55,135.98 537.80,135.60 538.05,135.26 538.30,134.97 538.55,134.72 538.80,134.52 539.05,134.36 539.30,134.24 539.55,134.17 539.80,134.15 540.05,134.15 540.30,134.15 540.55,134.15 540.80,134.15 541.05,134.15 541.30,134.15 541.55,134.15 541.80,134.15 542.05,134.15 542.30,134.15 542.55,134.15 542.80,134.15 543.05,134.17 543.30,134.23 543.55,134.34 543.80,134.49 544.05,134.69 544.30,134.93 544.55,135.22 544.80,135.55 545.05,135.92 545.30,136.34 545.55,136.79 545.80,137.29 546.05,137.83 546.30,138.41 546.55,139.03 546.80,139.69 547.05,140.38 547.30,141.11 547.55,141.88 547.80,142.68 548.05,143.51 548.30,144.38 548.55,145.28 548.80,146.21 549.05,147.17 549.30,148.15 549.55,149.17 549.80,150.20 550.05,151.26 550.30,152.35 550.55,153.45 550.80,154.57 551.05,155.71 551.30,156.87 551.55,158.04 551.80,159.23 552.05,160.43 552.30,161.63 552.55,162.85 552.80,164.07 553.05,165.30 553.30,166.53 553.55,167.76 553.80,168.99 554.05,170.21 554.30,171.43 554.55,172.65 554.80,173.86 555.05,175.06 555.30,176.25 555.55,177.43 555.80,178.60 556.05,179.75 556.30,180.89 556.55,182.01 556.80,183.11 557.05,184.20 557.30,185.26 557.55,186.29 557.80,187.31 558.05,188.29 558.30,189.26 558.55,190.19 558.80,191.09 559.05,191.96 559.30,192.80 559.55,193.61 559.80,194.38 560.05,195.12 560.30,195.82 560.55,196.49 560.80,197.12 561.05,197.70 561.30,198.25 561.55,198.76 561.80,199.23 562.05,199.66 562.30,200.04 562.55,200.38 562.80,200.68 563.05,200.54 563.30,200.22 563.55,199.86 563.80,199.46 564.05,199.01 564.30,198.52 564.55,197.99 564.80,197.43 565.05,196.82 565.30,196.17 565.55,195.49 565.80,194.77 566.05,194.02 566.30,193.23 566.55,192.40 566.80,191.55 567.05,190.66 567.30,189.74 567.55,188.80 567.80,187.82 568.05,186.82 568.30,185.80 568.55,184.75 568.80,183.68 569.05,182.59 569.30,181.48 569.55,180.35 569.80,179.20 570.05,178.04 570.30,176.86 570.55,175.68 570.80,174.48 571.05,173.28 571.30,172.07 571.55,170.85 571.80,169.63 572.05,168.40 572.30,167.17 572.55,165.93 572.80,164.70 573.05,163.47 573.30,162.24 573.55,161.02 573.80,159.82 574.05,158.62 574.30,157.43 574.55,156.26 574.80,155.11 575.05,153.97 575.30,152.85 575.55,151.75 575.80,150.67 576.05,149.61 576.30,148.58 576.55,147.57 576.80,146.59 577.05,145.64 577.30,144.72 577.55,143.83 577.80,142.97 578.05,142.14 578.30,141.35 578.55,140.59 578.80,139.87 579.05,139.19 579.30,138.55 579.55,137.94 579.80,137.37 580.05,136.85 580.30,136.36 580.55,135.92 580.80,135.52 581.05,135.16 581.30,134.85 581.55,134.58 581.80,134.36 582.05,134.18 582.30,134.04 582.55,133.95 582.80,133.90 583.05,133.90 583.30,133.90 583.55,133.90 583.80,133.90 584.05,133.90 584.30,133.90 584.55,133.90 584.80,133.90 585.05,133.90 585.30,133.90 585.55,133.90 585.80,133.90 586.05,133.90 586.30,133.95 586.55,134.04 586.80,134.17 587.05,134.35 587.30,134.58 587.55,134.84 587.80,135.16 588.05,135.51 588.30,135.91 588.55,136.35 588.80,136.84 589.05,137.36 589.30,137.93 589.55,138.53 589.80,139.18 590.05,139.86 590.30,140.58 590.55,141.34 590.80,142.13 591.05,142.96 591.30,143.82 591.55,144.71 591.80,145.63 592.05,146.59 592.30,147.57 592.55,148.57 592.80,149.61 593.05,150.67 593.30,151.75 593.55,152.85 593.80,153.97 594.05,155.12 594.30,156.28 594.55,157.45 594.80,158.64 595.05,159.84 595.30,161.05 595.55,162.27 595.80,163.50 596.05,164.74 596.30,165.97 596.55,167.22 596.80,168.45 597.05,169.68 597.30,170.90 597.55,172.11 597.80,173.33 598.05,174.53 598.30,175.73 598.30,179.20 598.05,179.20 597.80,179.20 597.55,179.20 597.30,179.20 597.05,179.20 596.80,179.20 596.55,179.20 596.30,179.20 596.05,179.20 595.80,179.20 595.55,179.20 595.30,178.73 595.05,177.53 594.80,176.33 594.55,175.11 594.30,173.90 594.05,172.68 593.80,171.45 593.55,170.22 593.30,168.97 593.05,167.74 592.80,166.50 592.55,165.27 592.30,164.05 592.05,162.84 591.80,161.64 591.55,160.45 591.30,159.28 591.05,158.12 590.80,156.97 590.55,155.85 590.30,154.75 590.05,153.67 589.80,152.61 589.55,151.57 589.30,150.57 589.05,149.59 588.80,148.63 588.55,147.71 588.30,146.82 588.05,145.96 587.80,145.13 587.55,144.34 587.30,143.58 587.05,142.86 586.80,142.18 586.55,141.53 586.30,140.93 586.05,140.36 585.80,139.84 585.55,139.35 585.30,138.91 585.05,138.51 584.80,138.16 584.55,137.84 584.30,137.85 584.05,138.16 583.80,138.52 583.55,138.92 583.30,139.36 583.05,139.85 582.80,140.37 582.55,140.94 582.30,141.55 582.05,142.19 581.80,142.87 581.55,143.59 581.30,144.35 581.05,145.14 580.80,145.97 580.55,146.83 580.30,147.72 580.05,148.64 579.80,149.59 579.55,150.57 579.30,151.58 579.05,152.61 578.80,153.67 578.55,154.75 578.30,155.85 578.05,156.97 577.80,158.11 577.55,159.26 577.30,160.43 577.05,161.62 576.80,162.82 576.55,164.02 576.30,165.24 576.05,166.47 575.80,167.70 575.55,168.93 575.30,170.17 575.05,171.40 574.80,172.63 574.55,173.85 574.30,175.07 574.05,176.28 573.80,177.48 573.55,178.68 573.30,179.86 573.05,181.04 572.80,182.20 572.55,183.35 572.30,184.48 572.05,185.59 571.80,186.68 571.55,187.75 571.30,188.80 571.05,189.82 570.80,190.82 570.55,191.80 570.30,192.74 570.05,193.66 569.80,194.55 569.55,195.40 569.30,196.23 569.05,197.02 568.80,197.77 568.55,198.49 568.30,199.17 568.05,199.82 567.80,200.43 567.55,200.99 567.30,201.52 567.05,202.01 566.80,202.46 566.55,202.86 566.30,203.22 566.05,203.54 565.80,203.82 565.55,204.05 565.30,204.24 565.05,204.38 564.80,204.48 564.55,204.54 564.30,204.55 564.05,204.55 563.80,204.55 563.55,204.55 563.30,204.55 563.05,204.55 562.80,204.55 562.55,204.55 562.30,204.55 562.05,204.55 561.80,204.55 561.55,204.55 561.30,204.55 561.05,204.51 560.80,204.44 560.55,204.31 560.30,204.15 560.05,203.93 559.80,203.68 559.55,203.38 559.30,203.04 559.05,202.66 558.80,202.23 558.55,201.76 558.30,201.25 558.05,200.70 557.80,200.12 557.55,199.49 557.30,198.82 557.05,198.12 556.80,197.38 556.55,196.61 556.30,195.80 556.05,194.96 555.80,194.09 555.55,193.19 555.30,192.26 555.05,191.29 554.80,190.31 554.55,189.29 554.30,188.26 554.05,187.20 553.80,186.11 553.55,185.01 553.30,183.89 553.05,182.75 552.80,181.60 552.55,180.43 552.30,179.25 552.05,178.06 551.80,176.86 551.55,175.65 551.30,174.43 551.05,173.21 550.80,171.99 550.55,170.76 550.30,169.53 550.05,168.30 549.80,167.07 549.55,165.85 549.30,164.63 549.05,163.43 548.80,162.23 548.55,161.04 548.30,159.87 548.05,158.71 547.80,157.57 547.55,156.45 547.30,155.35 547.05,154.26 546.80,153.20 546.55,152.17 546.30,151.15 546.05,150.17 545.80,149.21 545.55,148.28 545.30,147.38 545.05,146.51 544.80,145.68 544.55,144.88 544.30,144.11 544.05,143.38 543.80,142.69 543.55,142.03 543.30,141.41 543.05,140.83 542.80,140.29 542.55,139.79 542.30,139.34 542.05,138.92 541.80,138.55 541.55,138.22 541.30,137.97 541.05,138.26 540.80,138.60 540.55,138.98 540.30,139.40 540.05,139.86 539.80,140.36 539.55,140.91 539.30,141.49 539.05,142.12 538.80,142.78 538.55,143.48 538.30,144.21 538.05,144.98 537.80,145.79 537.55,146.63 537.30,147.50 537.05,148.40 536.80,149.33 536.55,150.29 536.30,151.28 536.05,152.29 535.80,153.33 535.55,154.39 535.30,155.47 535.05,156.58 534.80,157.70 534.55,158.84 534.30,160.00 534.05,161.17 533.80,162.35 533.55,163.55 533.30,164.75 533.05,165.96 532.80,167.18 532.55,168.41 532.30,169.63 532.05,170.86 531.80,172.09 531.55,173.31 531.30,174.53 531.05,175.74 530.80,176.95 530.55,178.15 530.30,179.34 530.05,180.52 529.80,181.69 529.55,182.84 529.30,183.98 529.05,185.10 528.80,186.20 528.55,187.28 528.30,188.34 528.05,189.38 527.80,190.39 527.55,191.37 527.30,192.33 527.05,193.26 526.80,194.16 526.55,195.03 526.30,195.87 526.05,196.67 525.80,197.44 525.55,198.18 525.30,198.88 525.05,199.54 524.80,200.16 524.55,200.75 524.30,201.30 524.05,201.80 523.80,202.26 523.55,202.69 523.30,203.07 523.05,203.41 522.80,203.70 522.55,203.95 522.30,204.16 522.05,204.32 521.80,204.44 521.55,204.52 521.30,204.55 521.05,204.55 520.80,204.55 520.55,204.55 520.30,204.55 520.05,204.55 519.80,204.55 519.55,204.55 519.30,204.55 519.05,204.55 518.80,204.55 518.55,204.55 518.30,204.55 518.05,204.54 517.80,204.48 517.55,204.37 517.30,204.23 517.05,204.03 516.80,203.80 516.55,203.52 516.30,203.20 516.05,202.83 515.80,202.42 515.55,201.97 515.30,201.48 515.05,200.95 514.80,200.38 514.55,199.77 514.30,199.12 514.05,198.43 513.80,197.71 513.55,196.95 513.30,196.16 513.05,195.34 512.80,194.48 512.55,193.59 512.30,192.67 512.05,191.72 511.80,190.75 511.55,189.74 511.30,188.72 511.05,187.67 510.80,186.59 510.55,185.50 510.30,184.39 510.05,183.25 509.80,182.11 509.55,180.95 509.30,179.77 509.05,178.58 508.80,177.39 508.55,176.18 508.30,174.97 508.05,173.75 507.80,172.53 507.55,171.31 507.30,170.08 507.05,168.86 506.80,167.64 506.55,166.42 506.30,165.21 506.05,164.01 505.80,162.82 505.55,161.63 505.30,160.46 505.05,159.31 504.80,158.17 504.55,157.05 504.30,155.94 504.05,154.86 503.80,153.79 503.55,152.75 503.30,151.74 503.05,150.75 502.80,149.79 502.55,148.85 502.30,147.95 502.05,147.07 501.80,146.23 501.55,145.42 501.30,144.64 501.05,143.90 500.80,143.19 500.55,142.52 500.30,141.89 500.05,141.30 499.80,140.75 499.55,140.24 499.30,139.77 499.05,139.33 498.80,138.95 498.55,138.60 498.30,138.30 498.05,138.37 497.80,138.69 497.55,139.04 497.30,139.44 497.05,139.88 496.80,140.37 496.55,140.89 496.30,141.45 496.05,142.05 495.80,142.69 495.55,143.37 495.30,144.09 495.05,144.83 494.80,145.62 494.55,146.44 494.30,147.29 494.05,148.17 493.80,149.08 493.55,150.02 493.30,150.99 493.05,151.98 492.80,153.00 492.55,154.05 492.30,155.11 492.05,156.20 491.80,157.31 491.55,158.43 491.30,159.57 491.05,160.73 490.80,161.90 490.55,163.08 490.30,164.27 490.05,165.47 489.80,166.68 489.55,167.89 489.30,169.11 489.05,170.33 488.80,171.55 488.55,172.77 488.30,173.99 488.05,175.21 487.80,176.42 487.55,177.63 487.30,178.82 487.05,180.01 486.80,181.18 486.55,182.34 486.30,183.48 486.05,184.61 485.80,185.72 485.55,186.81 485.30,187.88 485.05,188.92 484.80,189.95 484.55,190.94 484.30,191.91 484.05,192.86 483.80,193.77 483.55,194.65 483.30,195.50 483.05,196.32 482.80,197.11 482.55,197.86 482.30,198.57 482.05,199.25 481.80,199.89 481.55,200.50 481.30,201.06 481.05,201.58 480.80,202.07 480.55,202.51 480.30,202.91 480.05,203.26 479.80,203.58 479.55,203.85 479.30,204.08 479.05,204.26 478.80,204.40 478.55,204.49 478.30,204.54 478.05,204.55 477.80,204.55 477.55,204.55 477.30,204.55 477.05,204.55 476.80,204.55 476.55,204.55 476.30,204.55 476.05,204.55 475.80,204.55 475.55,204.55 475.30,204.55 475.05,204.55 474.80,204.51 474.55,204.42 474.30,204.30 474.05,204.12 473.80,203.91 473.55,203.65 473.30,203.34 473.05,203.00 472.80,202.61 472.55,202.18 472.30,201.70 472.05,201.19 471.80,200.64 471.55,200.04 471.30,199.41 471.05,198.74 470.80,198.03 470.55,197.29 470.30,196.52 470.05,195.70 469.80,194.86 469.55,193.98 469.30,193.08 469.05,192.14 468.80,191.18 468.55,190.19 468.30,189.17 468.05,188.13 467.80,187.07 467.55,185.98 467.30,184.88 467.05,183.75 466.80,182.61 466.55,181.46 466.30,180.29 466.05,179.11 465.80,177.91 465.55,176.71 465.30,175.50 465.05,174.29 464.80,173.07 464.55,171.84 464.30,170.62 464.05,169.41 463.80,168.19 463.55,166.98 463.30,165.78 463.05,164.58 462.80,163.40 462.55,162.22 462.30,161.05 462.05,159.90 461.80,158.76 461.55,157.64 461.30,156.53 461.05,155.45 460.80,154.38 460.55,153.34 460.30,152.32 460.05,151.33 459.80,150.36 459.55,149.42 459.30,148.51 459.05,147.63 458.80,146.78 458.55,145.96 458.30,145.17 458.05,144.42 457.80,143.70 457.55,143.02 457.30,142.38 457.05,141.78 456.80,141.21 456.55,140.68 456.30,140.20 456.05,139.75 455.80,139.35 455.55,138.99 455.30,138.67 455.05,138.49 454.80,138.79 454.55,139.12 454.30,139.50 454.05,139.92 453.80,140.38 453.55,140.88 453.30,141.42 453.05,142.00 452.80,142.62 452.55,143.28 452.30,143.97 452.05,144.70 451.80,145.46 451.55,146.26 451.30,147.09 451.05,147.95 450.80,148.84 450.55,149.76 450.30,150.71 450.05,151.69 449.80,152.69 449.55,153.72 449.30,154.76 449.05,155.83 448.80,156.92 448.55,158.03 448.30,159.16 448.05,160.30 447.80,161.45 447.55,162.62 447.30,163.80 447.05,164.99 446.80,166.18 446.55,167.38 446.30,168.59 446.05,169.80 445.80,171.01 445.55,172.24 445.30,173.46 445.05,174.68 444.80,175.89 444.55,177.10 444.30,178.30 444.05,179.49 443.80,180.66 443.55,181.83 443.30,182.98 443.05,184.12 442.80,185.23 442.55,186.33 442.30,187.41 442.05,188.47 441.80,189.50 441.55,190.51 441.30,191.49 441.05,192.44 440.80,193.37 440.55,194.27 440.30,195.13 440.05,195.97 439.80,196.77 439.55,197.53 439.30,198.26 439.05,198.96 438.80,199.62 438.55,200.24 438.30,200.82 438.05,201.36 437.80,201.86 437.55,202.32 437.30,202.74 437.05,203.11 436.80,203.44 436.55,203.73 436.30,203.98 436.05,204.18 435.80,204.34 435.55,204.46 435.30,204.52 435.05,204.55 434.80,204.55 434.55,204.55 434.30,204.55 434.05,204.55 433.80,204.55 433.55,204.55 433.30,204.55 433.05,204.55 432.80,204.55 432.55,204.55 432.30,204.55 432.05,204.55 431.80,204.53 431.55,204.47 431.30,204.36 431.05,204.20 430.80,204.01 430.55,203.77 430.30,203.48 430.05,203.15 429.80,202.78 429.55,202.37 429.30,201.92 429.05,201.42 428.80,200.88 428.55,200.31 428.30,199.69 428.05,199.04 427.80,198.35 427.55,197.62 427.30,196.86 427.05,196.06 426.80,195.24 426.55,194.37 426.30,193.48 426.05,192.56 425.80,191.61 425.55,190.63 425.30,189.62 425.05,188.59 424.80,187.54 424.55,186.46 424.30,185.37 424.05,184.25 423.80,183.12 423.55,181.97 423.30,180.81 423.05,179.63 422.80,178.44 422.55,177.24 422.30,176.04 422.05,174.82 421.80,173.60 421.55,172.38 421.30,171.16 421.05,169.95 420.80,168.74 420.55,167.54 420.30,166.34 420.05,165.15 419.80,163.97 419.55,162.80 419.30,161.63 419.05,160.48 418.80,159.35 418.55,158.23 418.30,157.12 418.05,156.04 417.80,154.97 417.55,153.93 417.30,152.90 417.05,151.91 416.80,150.94 416.55,149.99 416.30,149.07 416.05,148.18 415.80,147.33 415.55,146.50 415.30,145.70 415.05,144.94 414.80,144.22 414.55,143.53 414.30,142.87 414.05,142.26 413.80,141.68 413.55,141.14 413.30,140.64 413.05,140.18 412.80,139.76 412.55,139.38 412.30,139.05 412.05,138.75 411.80,138.90 411.55,139.21 411.30,139.57 411.05,139.96 410.80,140.40 410.55,140.88 410.30,141.40 410.05,141.96 409.80,142.56 409.55,143.19 409.30,143.87 409.05,144.57 408.80,145.32 408.55,146.09 408.30,146.90 408.05,147.74 407.80,148.62 407.55,149.52 407.30,150.45 407.05,151.40 406.80,152.39 406.55,153.39 406.30,154.43 406.05,155.48 405.80,156.55 405.55,157.64 405.30,158.75 405.05,159.88 404.80,161.02 404.55,162.17 404.30,163.34 404.05,164.51 403.80,165.69 403.55,166.89 403.30,168.08 403.05,169.28 402.80,170.48 402.55,171.70 402.30,172.92 402.05,174.14 401.80,175.36 401.55,176.57 401.30,177.77 401.05,178.96 400.80,180.15 400.55,181.32 400.30,182.48 400.05,183.62 399.80,184.74 399.55,185.85 399.30,186.94 399.05,188.00 398.80,189.05 398.55,190.07 398.30,191.06 398.05,192.03 397.80,192.97 397.55,193.88 397.30,194.76 397.05,195.60 396.80,196.42 396.55,197.20 396.30,197.95 396.05,198.66 395.80,199.33 395.55,199.97 395.30,200.57 395.05,201.12 394.80,201.64 394.55,202.12 394.30,202.56 394.05,202.95 393.80,203.30 393.55,203.61 393.30,203.88 393.05,204.10 392.80,204.28 392.55,204.41 392.30,204.50 392.05,204.54 391.80,204.54 391.55,204.54 391.30,204.54 391.05,204.54 390.80,204.54 390.55,204.54 390.30,204.54 390.05,204.54 389.80,204.54 389.55,204.54 389.30,204.54 389.05,204.54 388.80,204.54 388.55,204.50 388.30,204.41 388.05,204.28 387.80,204.10 387.55,203.88 387.30,203.61 387.05,203.30 386.80,202.95 386.55,202.56 386.30,202.12 386.05,201.64 385.80,201.12 385.55,200.57 385.30,199.97 385.05,199.33 384.80,198.66 384.55,197.95 384.30,197.20 384.05,196.42 383.80,195.60 383.55,194.76 383.30,193.88 383.05,192.97 382.80,192.03 382.55,191.06 382.30,190.07 382.05,189.05 381.80,188.00" fill="#008080" shape-rendering="crispEdges"/>
<path d="M368.6,25.55H604.55V217.20000000000002M604.55,216.3H368.6M368.6,217.20000000000002V24.95" fill="none" stroke="#000" stroke-width="1.3"/>
<line x1="368.6" y1="121.45" x2="604.55" y2="121.45" stroke="#000" stroke-width="1.3"/>
<path d="M368.6,120.5h2.4 M368.6,112.5h5.2 M368.6,104.5h2.4 M368.6,96.5h2.4 M368.6,89.5h2.4 M368.6,81.5h2.4 M368.6,73.5h5.2 M368.6,65.5h2.4 M368.6,57.5h2.4 M368.6,50.5h2.4 M368.6,42.5h2.4 M368.6,34.5h5.2 M368.6,26.5h2.4 M368.6,213.5h2.4 M368.6,207.5h2.4 M368.6,200.5h5.2 M368.6,194.5h2.4 M368.6,188.5h2.4 M368.6,182.5h2.4 M368.6,175.5h2.4 M368.6,169.5h5.2 M368.6,163.5h2.4 M368.6,156.5h2.4 M368.6,150.5h2.4 M368.6,144.5h2.4 M368.6,137.5h5.2 M368.6,131.5h2.4 M368.6,125.5h2.4 M375.5,121.45v-2.45 M375.5,216.3v-2.25 M383.5,121.45v-2.45 M383.5,216.3v-2.25 M392.5,121.45v-2.45 M392.5,216.3v-2.25 M401.5,121.45v-3.45 M401.5,216.3v-4.25 M409.5,121.45v-2.45 M409.5,216.3v-2.25 M418.5,121.45v-2.45 M418.5,216.3v-2.25 M426.5,121.45v-2.45 M426.5,216.3v-2.25 M435.5,121.45v-2.45 M435.5,216.3v-2.25 M443.5,121.45v-3.45 M443.5,216.3v-4.25 M452.5,121.45v-2.45 M452.5,216.3v-2.25 M461.5,121.45v-2.45 M461.5,216.3v-2.25 M469.5,121.45v-2.45 M469.5,216.3v-2.25 M478.5,121.45v-2.45 M478.5,216.3v-2.25 M486.5,121.45v-3.45 M486.5,216.3v-4.25 M495.5,121.45v-2.45 M495.5,216.3v-2.25 M503.5,121.45v-2.45 M503.5,216.3v-2.25 M512.5,121.45v-2.45 M512.5,216.3v-2.25 M521.5,121.45v-2.45 M521.5,216.3v-2.25 M529.5,121.45v-3.45 M529.5,216.3v-4.25 M538.5,121.45v-2.45 M538.5,216.3v-2.25 M546.5,121.45v-2.45 M546.5,216.3v-2.25 M555.5,121.45v-2.45 M555.5,216.3v-2.25 M563.5,121.45v-2.45 M563.5,216.3v-2.25 M572.5,121.45v-3.45 M572.5,216.3v-4.25 M581.5,121.45v-2.45 M581.5,216.3v-2.25 M589.5,121.45v-2.45 M589.5,216.3v-2.25 M598.5,121.45v-2.45 M598.5,216.3v-2.25" stroke="#000" stroke-width="1.1" fill="none"/>
<text transform="translate(363.6 39.1) scale(0.93 1) skewX(0.3)" font-size="15.2" text-anchor="end" >8</text>
<text transform="translate(363.6 77.95) scale(0.93 1) skewX(0.3)" font-size="15.2" text-anchor="end" >0</text>
<text transform="translate(363.6 117.0) scale(0.93 1) skewX(0.3)" font-size="15.2" text-anchor="end" ><tspan dy="-0.9" style="stroke:#333;stroke-width:0.5px">–</tspan><tspan dy="0.9">8</tspan></text>
<text transform="translate(363.3 142.9) scale(0.93 1) skewX(0.3)" font-size="15.2" text-anchor="end" ><tspan class="n" font-size="14.14" textLength="8.45" lengthAdjust="spacingAndGlyphs">1</tspan>0</text>
<text transform="translate(363.3 174.95) scale(0.93 1) skewX(0.3)" font-size="15.2" text-anchor="end" >0</text>
<text transform="translate(363.3 205.9) scale(0.93 1) skewX(0.3)" font-size="15.2" text-anchor="end" ><tspan dy="-0.9" style="stroke:#333;stroke-width:0.5px">–</tspan><tspan dy="0.9"><tspan class="n" font-size="14.14" textLength="8.45" lengthAdjust="spacingAndGlyphs">1</tspan>0</tspan></text>
<text transform="translate(401.1 232.9) scale(0.93 1) skewX(0.3)" font-size="15.2" text-anchor="middle" ><tspan dy="-0.9" style="stroke:#333;stroke-width:0.5px">–</tspan><tspan dy="0.9">4</tspan></text>
<text transform="translate(443.95 232.9) scale(0.93 1) skewX(0.3)" font-size="15.2" text-anchor="middle" ><tspan dy="-0.9" style="stroke:#333;stroke-width:0.5px">–</tspan><tspan dy="0.9">2</tspan></text>
<text transform="translate(486.8 232.9) scale(0.93 1) skewX(0.3)" font-size="15.2" text-anchor="middle" >0</text>
<text transform="translate(529.65 232.9) scale(0.93 1) skewX(0.3)" font-size="15.2" text-anchor="middle" >2</text>
<text transform="translate(572.5 232.9) scale(0.93 1) skewX(0.3)" font-size="15.2" text-anchor="middle" >4</text>
<text transform="translate(485.2 253.9) scale(0.93 1) skewX(0.3)" font-size="15.2" text-anchor="middle" >Time (ms)</text>
<text transform="translate(336.4 72.0) rotate(-90) scale(0.935 1)" font-size="15.2" text-anchor="middle" >Stress (MPa)</text>
<text transform="translate(336.3 176.5) rotate(-90) scale(0.950 1)" font-size="15.2" text-anchor="middle">Current (µA cm<tspan dy="-4.6" font-size="10">–2</tspan><tspan dy="4.6">)</tspan></text>
</g>
<g id="panel-c">
<polyline points="78.9,463.2 88.4,458.3 102.5,453.4 115.3,448 128.3,442.9 140.8,437.5 153.5,432.2 165.3,426.5 178.9,420.9 190.9,415 204.3,409.2 216.5,403.8 230.3,398.1 242.5,392.2 256.2,386.4 268,380.8 279.8,374.9" fill="none" stroke="#ff7f00" stroke-width="1.7"/>
<circle cx="78.9" cy="463.2" r="3.6" fill="url(#gO)"/>
<circle cx="88.4" cy="458.3" r="3.6" fill="url(#gO)"/>
<circle cx="102.5" cy="453.4" r="3.6" fill="url(#gO)"/>
<circle cx="115.3" cy="448" r="3.6" fill="url(#gO)"/>
<circle cx="128.3" cy="442.9" r="3.6" fill="url(#gO)"/>
<circle cx="140.8" cy="437.5" r="3.6" fill="url(#gO)"/>
<circle cx="153.5" cy="432.2" r="3.6" fill="url(#gO)"/>
<circle cx="165.3" cy="426.5" r="3.6" fill="url(#gO)"/>
<circle cx="178.9" cy="420.9" r="3.6" fill="url(#gO)"/>
<circle cx="190.9" cy="415" r="3.6" fill="url(#gO)"/>
<circle cx="204.3" cy="409.2" r="3.6" fill="url(#gO)"/>
<circle cx="216.5" cy="403.8" r="3.6" fill="url(#gO)"/>
<circle cx="230.3" cy="398.1" r="3.6" fill="url(#gO)"/>
<circle cx="242.5" cy="392.2" r="3.6" fill="url(#gO)"/>
<circle cx="256.2" cy="386.4" r="3.6" fill="url(#gO)"/>
<circle cx="268" cy="380.8" r="3.6" fill="url(#gO)"/>
<circle cx="279.8" cy="374.9" r="3.6" fill="url(#gO)"/>
<polyline points="78.8,463.6 89.9,462.5 103.3,461 116.3,459.7 129.6,458.2 142.6,456.7 156,455.2 169.7,454.1 183.5,452.6 198,451.1 212.6,449.3 227.7,448 242.8,446.5 257.9,444.9 275.5,443.1" fill="none" stroke="#008080" stroke-width="1.7"/>
<circle cx="78.8" cy="463.6" r="3.6" fill="url(#gT)"/>
<circle cx="89.9" cy="462.5" r="3.6" fill="url(#gT)"/>
<circle cx="103.3" cy="461" r="3.6" fill="url(#gT)"/>
<circle cx="116.3" cy="459.7" r="3.6" fill="url(#gT)"/>
<circle cx="129.6" cy="458.2" r="3.6" fill="url(#gT)"/>
<circle cx="142.6" cy="456.7" r="3.6" fill="url(#gT)"/>
<circle cx="156" cy="455.2" r="3.6" fill="url(#gT)"/>
<circle cx="169.7" cy="454.1" r="3.6" fill="url(#gT)"/>
<circle cx="183.5" cy="452.6" r="3.6" fill="url(#gT)"/>
<circle cx="198" cy="451.1" r="3.6" fill="url(#gT)"/>
<circle cx="212.6" cy="449.3" r="3.6" fill="url(#gT)"/>
<circle cx="227.7" cy="448" r="3.6" fill="url(#gT)"/>
<circle cx="242.8" cy="446.5" r="3.6" fill="url(#gT)"/>
<circle cx="257.9" cy="444.9" r="3.6" fill="url(#gT)"/>
<circle cx="275.5" cy="443.1" r="3.6" fill="url(#gT)"/>
<polyline points="78.4,462.3 84.4,454.6 92.5,445.4 100.4,436 108.4,426.5 116.3,417.1 124,407.3 131.9,397.4 139.8,385.4 147.7,377 155.3,366.8 163.3,355.7 171.5,345.3 179.1,334 187.3,323 195,312.3 203.0,300.5" fill="none" stroke="#808000" stroke-width="1.7"/>
<circle cx="78.4" cy="462.3" r="3.6" fill="url(#gL)"/>
<circle cx="84.4" cy="454.6" r="3.6" fill="url(#gL)"/>
<circle cx="92.5" cy="445.4" r="3.6" fill="url(#gL)"/>
<circle cx="100.4" cy="436" r="3.6" fill="url(#gL)"/>
<circle cx="108.4" cy="426.5" r="3.6" fill="url(#gL)"/>
<circle cx="116.3" cy="417.1" r="3.6" fill="url(#gL)"/>
<circle cx="124" cy="407.3" r="3.6" fill="url(#gL)"/>
<circle cx="131.9" cy="397.4" r="3.6" fill="url(#gL)"/>
<circle cx="139.8" cy="385.4" r="3.6" fill="url(#gL)"/>
<circle cx="147.7" cy="377" r="3.6" fill="url(#gL)"/>
<circle cx="155.3" cy="366.8" r="3.6" fill="url(#gL)"/>
<circle cx="163.3" cy="355.7" r="3.6" fill="url(#gL)"/>
<circle cx="171.5" cy="345.3" r="3.6" fill="url(#gL)"/>
<circle cx="179.1" cy="334" r="3.6" fill="url(#gL)"/>
<circle cx="187.3" cy="323" r="3.6" fill="url(#gL)"/>
<circle cx="195" cy="312.3" r="3.6" fill="url(#gL)"/>
<circle cx="203.0" cy="300.5" r="3.6" fill="url(#gL)"/>
<path d="M61.85,286.7H297.85V478.84999999999997M297.85,477.95H61.85M61.85,478.84999999999997V286.09999999999997" fill="none" stroke="#000" stroke-width="1.3"/>
<path d="M61.85,475.5h2.3 M61.85,469.5h2.3 M61.85,464.5h4.2 M61.85,459.5h2.3 M61.85,453.5h2.3 M61.85,448.5h2.3 M61.85,443.5h2.3 M61.85,437.5h4.2 M61.85,432.5h2.3 M61.85,427.5h2.3 M61.85,421.5h2.3 M61.85,416.5h2.3 M61.85,411.5h4.2 M61.85,405.5h2.3 M61.85,400.5h2.3 M61.85,395.5h2.3 M61.85,389.5h2.3 M61.85,384.5h4.2 M61.85,379.5h2.3 M61.85,373.5h2.3 M61.85,368.5h2.3 M61.85,363.5h2.3 M61.85,357.5h4.2 M61.85,352.5h2.3 M61.85,347.5h2.3 M61.85,341.5h2.3 M61.85,336.5h2.3 M61.85,331.5h4.2 M61.85,325.5h2.3 M61.85,320.5h2.3 M61.85,315.5h2.3 M61.85,309.5h2.3 M61.85,304.5h4.2 M61.85,299.5h2.3 M61.85,293.5h2.3 M61.85,288.5h2.3 M66.5,477.95v-2.3 M71.5,477.95v-2.3 M76.5,477.95v-4.2 M81.5,477.95v-2.3 M86.5,477.95v-2.3 M91.5,477.95v-2.3 M97.5,477.95v-2.3 M102.5,477.95v-4.2 M107.5,477.95v-2.3 M112.5,477.95v-2.3 M117.5,477.95v-2.3 M122.5,477.95v-2.3 M127.5,477.95v-4.2 M132.5,477.95v-2.3 M138.5,477.95v-2.3 M143.5,477.95v-2.3 M148.5,477.95v-2.3 M153.5,477.95v-4.2 M158.5,477.95v-2.3 M163.5,477.95v-2.3 M168.5,477.95v-2.3 M173.5,477.95v-2.3 M179.5,477.95v-4.2 M184.5,477.95v-2.3 M189.5,477.95v-2.3 M194.5,477.95v-2.3 M199.5,477.95v-2.3 M204.5,477.95v-4.2 M209.5,477.95v-2.3 M214.5,477.95v-2.3 M220.5,477.95v-2.3 M225.5,477.95v-2.3 M230.5,477.95v-4.2 M235.5,477.95v-2.3 M240.5,477.95v-2.3 M245.5,477.95v-2.3 M250.5,477.95v-2.3 M255.5,477.95v-4.2 M261.5,477.95v-2.3 M266.5,477.95v-2.3 M271.5,477.95v-2.3 M276.5,477.95v-2.3 M281.5,477.95v-4.2 M286.5,477.95v-2.3 M291.5,477.95v-2.3" stroke="#000" stroke-width="1.1" fill="none"/>
<text transform="translate(56.0 469.79999999999995) scale(0.93 1) skewX(0.3)" font-size="15.2" text-anchor="end" >0</text>
<text transform="translate(56.0 443.1733333333333) scale(0.93 1) skewX(0.3)" font-size="15.2" text-anchor="end" >3</text>
<text transform="translate(56.0 416.5466666666666) scale(0.93 1) skewX(0.3)" font-size="15.2" text-anchor="end" >6</text>
<text transform="translate(56.0 389.91999999999996) scale(0.93 1) skewX(0.3)" font-size="15.2" text-anchor="end" >9</text>
<text transform="translate(56.0 363.2933333333333) scale(0.93 1) skewX(0.3)" font-size="15.2" text-anchor="end" ><tspan class="n" font-size="14.14" textLength="8.45" lengthAdjust="spacingAndGlyphs">1</tspan>2</text>
<text transform="translate(56.0 336.66666666666663) scale(0.93 1) skewX(0.3)" font-size="15.2" text-anchor="end" ><tspan class="n" font-size="14.14" textLength="8.45" lengthAdjust="spacingAndGlyphs">1</tspan>5</text>
<text transform="translate(56.0 310.03999999999996) scale(0.93 1) skewX(0.3)" font-size="15.2" text-anchor="end" ><tspan class="n" font-size="14.14" textLength="8.45" lengthAdjust="spacingAndGlyphs">1</tspan>8</text>
<text transform="translate(76.6 495.9) scale(0.93 1) skewX(0.3)" font-size="15.2" text-anchor="middle" >0</text>
<text transform="translate(102.225 495.9) scale(0.93 1) skewX(0.3)" font-size="15.2" text-anchor="middle" ><tspan class="n" font-size="14.14" textLength="8.45" lengthAdjust="spacingAndGlyphs">1</tspan></text>
<text transform="translate(127.85 495.9) scale(0.93 1) skewX(0.3)" font-size="15.2" text-anchor="middle" >2</text>
<text transform="translate(153.47500000000002 495.9) scale(0.93 1) skewX(0.3)" font-size="15.2" text-anchor="middle" >3</text>
<text transform="translate(179.10000000000002 495.9) scale(0.93 1) skewX(0.3)" font-size="15.2" text-anchor="middle" >4</text>
<text transform="translate(204.72500000000002 495.9) scale(0.93 1) skewX(0.3)" font-size="15.2" text-anchor="middle" >5</text>
<text transform="translate(230.35000000000002 495.9) scale(0.93 1) skewX(0.3)" font-size="15.2" text-anchor="middle" >6</text>
<text transform="translate(255.97500000000002 495.9) scale(0.93 1) skewX(0.3)" font-size="15.2" text-anchor="middle" >7</text>
<text transform="translate(281.6 495.9) scale(0.93 1) skewX(0.3)" font-size="15.2" text-anchor="middle" >8</text>
<text transform="translate(180.2 518.8) scale(0.935 1) skewX(0.3)" font-size="15.2" text-anchor="middle">Stress, <tspan font-style="italic" font-family="Liberation Serif, serif" font-size="16" textLength="10.4" lengthAdjust="spacingAndGlyphs">σ</tspan><tspan dy="5" font-size="10.8" class="n" textLength="12.6" lengthAdjust="spacingAndGlyphs">11</tspan><tspan dy="-5"> (MPa)</tspan></text>
<text transform="translate(27.7 380.2) rotate(-90) scale(0.956 1)" font-size="15.2" text-anchor="middle">Current density (µA cm<tspan dy="-4.6" font-size="10">–2</tspan><tspan dy="4.6">)</tspan></text>
<circle cx="78.35" cy="300.1" r="3.6" fill="url(#gO)"/>
<text transform="translate(93.7 305.9) scale(0.892 1) skewX(0.3)" font-size="15.2" text-anchor="start" >Nb:STO</text>
<circle cx="78.35" cy="316.7" r="3.6" fill="url(#gT)"/>
<text transform="translate(93.7 322.3) scale(0.892 1) skewX(0.3)" font-size="15.2" text-anchor="start" >Nb:TO</text>
<circle cx="78.35" cy="333.4" r="3.6" fill="url(#gL)"/>
<text transform="translate(93.7 338.7) scale(0.892 1) skewX(0.3)" font-size="15.2" text-anchor="start" >Nb:BSTO</text>
</g>
<g id="panel-d">
<line x1="393.4" y1="448.8" x2="592.6" y2="311.2" stroke="#000" stroke-width="2.4"/>
<circle cx="393.30" cy="440.55" r="3.55" fill="url(#gT)"/>
<circle cx="399.35" cy="439.25" r="3.55" fill="url(#gT)"/>
<circle cx="405.39" cy="424.75" r="3.55" fill="url(#gT)"/>
<circle cx="411.44" cy="438.05" r="3.55" fill="url(#gT)"/>
<circle cx="417.48" cy="429.85" r="3.55" fill="url(#gT)"/>
<circle cx="423.53" cy="422.15" r="3.55" fill="url(#gT)"/>
<circle cx="429.57" cy="416.55" r="3.55" fill="url(#gT)"/>
<circle cx="435.62" cy="422.95" r="3.55" fill="url(#gT)"/>
<circle cx="441.66" cy="427.05" r="3.55" fill="url(#gT)"/>
<circle cx="447.71" cy="413.75" r="3.55" fill="url(#gT)"/>
<circle cx="453.75" cy="409.65" r="3.55" fill="url(#gT)"/>
<circle cx="459.80" cy="412.95" r="3.55" fill="url(#gT)"/>
<circle cx="465.84" cy="406.35" r="3.55" fill="url(#gT)"/>
<circle cx="471.88" cy="398.15" r="3.55" fill="url(#gT)"/>
<circle cx="477.93" cy="397.35" r="3.55" fill="url(#gT)"/>
<circle cx="483.98" cy="391.75" r="3.55" fill="url(#gT)"/>
<circle cx="490.02" cy="388.15" r="3.55" fill="url(#gT)"/>
<circle cx="496.06" cy="383.05" r="3.55" fill="url(#gT)"/>
<circle cx="502.11" cy="378.45" r="3.55" fill="url(#gT)"/>
<circle cx="508.16" cy="372.35" r="3.55" fill="url(#gT)"/>
<circle cx="514.20" cy="355.95" r="3.55" fill="url(#gT)"/>
<circle cx="520.25" cy="367.45" r="3.55" fill="url(#gT)"/>
<circle cx="526.29" cy="367.75" r="3.55" fill="url(#gT)"/>
<circle cx="532.34" cy="357.55" r="3.55" fill="url(#gT)"/>
<circle cx="538.38" cy="347.25" r="3.55" fill="url(#gT)"/>
<circle cx="544.42" cy="341.45" r="3.55" fill="url(#gT)"/>
<circle cx="550.47" cy="330.15" r="3.55" fill="url(#gT)"/>
<circle cx="556.51" cy="325.85" r="3.55" fill="url(#gT)"/>
<circle cx="562.56" cy="334.75" r="3.55" fill="url(#gT)"/>
<circle cx="568.61" cy="325.05" r="3.55" fill="url(#gT)"/>
<circle cx="574.65" cy="327.15" r="3.55" fill="url(#gT)"/>
<circle cx="580.70" cy="320.75" r="3.55" fill="url(#gT)"/>
<circle cx="586.74" cy="323.05" r="3.55" fill="url(#gT)"/>
<circle cx="592.78" cy="310.75" r="3.55" fill="url(#gT)"/>
<path d="M369.7,287.3H605.75V478.95M605.75,478.05H369.7M369.7,478.95V286.7" fill="none" stroke="#000" stroke-width="1.3"/>
<path d="M369.7,473.5h2.5 M369.7,468.5h2.5 M369.7,463.5h2.5 M369.7,459.5h2.5 M369.7,454.5h2.5 M369.7,449.5h2.5 M369.7,444.5h2.5 M369.7,440.5h2.5 M369.7,435.5h2.5 M369.7,430.5h4.2 M369.7,425.5h2.5 M369.7,421.5h2.5 M369.7,416.5h2.5 M369.7,411.5h2.5 M369.7,406.5h2.5 M369.7,402.5h2.5 M369.7,397.5h2.5 M369.7,392.5h2.5 M369.7,387.5h2.5 M369.7,382.5h4.2 M369.7,378.5h2.5 M369.7,373.5h2.5 M369.7,368.5h2.5 M369.7,363.5h2.5 M369.7,359.5h2.5 M369.7,354.5h2.5 M369.7,349.5h2.5 M369.7,344.5h2.5 M369.7,340.5h2.5 M369.7,335.5h4.2 M369.7,330.5h2.5 M369.7,325.5h2.5 M369.7,320.5h2.5 M369.7,316.5h2.5 M369.7,311.5h2.5 M369.7,306.5h2.5 M369.7,301.5h2.5 M369.7,297.5h2.5 M369.7,292.5h2.5 M375.5,478.05v-2.3 M381.5,478.05v-2.3 M387.5,478.05v-2.3 M393.5,478.05v-4.2 M399.5,478.05v-2.3 M405.5,478.05v-2.3 M411.5,478.05v-2.3 M417.5,478.05v-2.3 M423.5,478.05v-2.3 M429.5,478.05v-2.3 M435.5,478.05v-2.3 M441.5,478.05v-2.3 M447.5,478.05v-2.3 M453.5,478.05v-4.2 M459.5,478.05v-2.3 M465.5,478.05v-2.3 M472.5,478.05v-2.3 M478.5,478.05v-2.3 M484.5,478.05v-2.3 M490.5,478.05v-2.3 M496.5,478.05v-2.3 M502.5,478.05v-2.3 M508.5,478.05v-2.3 M514.5,478.05v-4.2 M520.5,478.05v-2.3 M526.5,478.05v-2.3 M532.5,478.05v-2.3 M538.5,478.05v-2.3 M544.5,478.05v-2.3 M550.5,478.05v-2.3 M556.5,478.05v-2.3 M562.5,478.05v-2.3 M568.5,478.05v-2.3 M574.5,478.05v-4.2 M580.5,478.05v-2.3 M586.5,478.05v-2.3 M592.5,478.05v-2.3 M598.5,478.05v-2.3 M604.5,478.05v-2.3" stroke="#000" stroke-width="1.1" fill="none"/>
<text transform="translate(363.4 483.05) scale(0.93 1) skewX(0.3)" font-size="15.2" text-anchor="end" >0</text>
<text transform="translate(363.4 435.3625) scale(0.93 1) skewX(0.3)" font-size="15.2" text-anchor="end" >2</text>
<text transform="translate(363.4 387.675) scale(0.93 1) skewX(0.3)" font-size="15.2" text-anchor="end" >4</text>
<text transform="translate(363.4 339.9875) scale(0.93 1) skewX(0.3)" font-size="15.2" text-anchor="end" >6</text>
<text transform="translate(363.4 292.3) scale(0.93 1) skewX(0.3)" font-size="15.2" text-anchor="end" >8</text>
<text transform="translate(393.0 495.0) scale(0.93 1) skewX(0.3)" font-size="15.2" text-anchor="middle" >0.<tspan class="n" font-size="14.14" textLength="8.45" lengthAdjust="spacingAndGlyphs">1</tspan></text>
<text transform="translate(453.3233333333333 495.0) scale(0.93 1) skewX(0.3)" font-size="15.2" text-anchor="middle" >0.2</text>
<text transform="translate(513.6466666666666 495.0) scale(0.93 1) skewX(0.3)" font-size="15.2" text-anchor="middle" >0.3</text>
<text transform="translate(573.97 495.0) scale(0.93 1) skewX(0.3)" font-size="15.2" text-anchor="middle" >0.4</text>
<text transform="translate(486.5 517.8) scale(0.93 1) skewX(0.3)" font-size="15.2" text-anchor="middle" >a.c. voltage (V)</text>
<text transform="translate(337.2 383.0) rotate(-90) scale(0.958 1)" font-size="15.2" text-anchor="middle" >Displacement (pm)</text>
</g>
<text y="560.5" font-size="17.1" class="cap" xml:space="preserve"><tspan x="10.0" textLength="30.1" lengthAdjust="spacingAndGlyphs">Fig.</tspan> <tspan x="42.1" textLength="10.2" lengthAdjust="spacingAndGlyphs">2</tspan> <tspan x="54.9" style="font-weight:normal;stroke:none">|</tspan> <tspan x="60.8" textLength="75.6" lengthAdjust="spacingAndGlyphs">Interface</tspan> <tspan x="139.2" textLength="106" lengthAdjust="spacingAndGlyphs">piezoelectric</tspan> <tspan x="247.7" textLength="53" lengthAdjust="spacingAndGlyphs">effect.</tspan></text>
<path d="M303.4,558.8 l2.2,2.6" stroke="#9a9a9a" stroke-width="1" fill="none"/>
</svg>
</body></html>
